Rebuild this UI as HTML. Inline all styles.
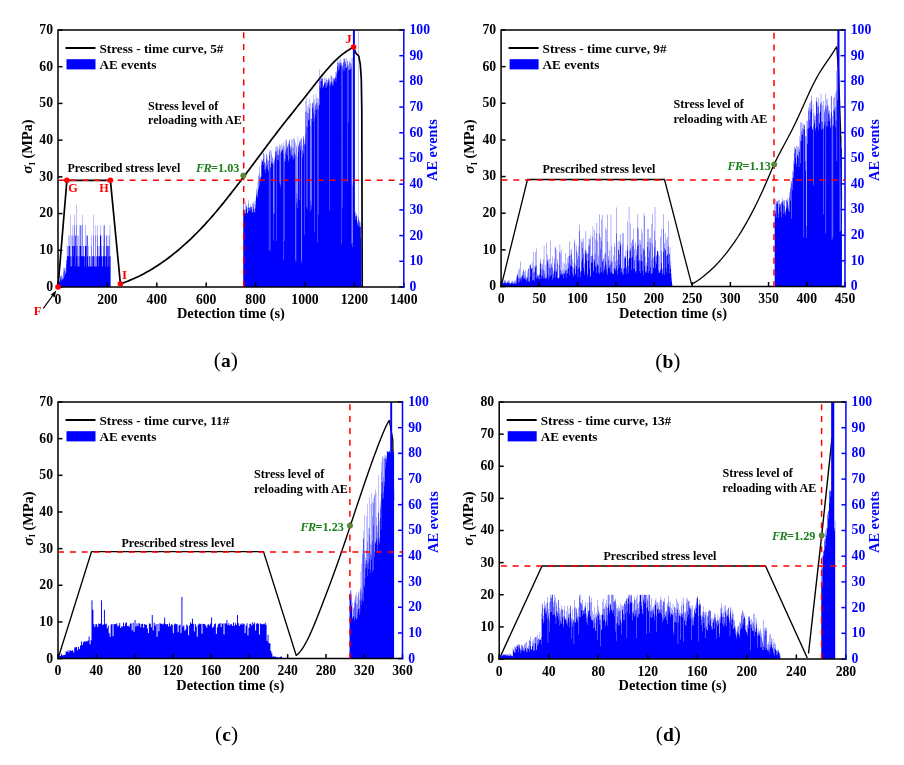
<!DOCTYPE html><html><head><meta charset="utf-8"><style>html,body{margin:0;padding:0;background:#fff;width:904px;height:765px;overflow:hidden}svg{display:block;will-change:transform}</style></head><body><svg width="904" height="765" viewBox="0 0 904 765" font-family='"Liberation Serif", serif'><rect width="904" height="765" fill="#fff"/><path d="M58 287 L66.9 180.3 L110.4 180.3 L120.4 283.8 L122.36 283.14 L124.32 282.44 L126.27 281.72 L128.23 280.96 L130.19 280.16 L132.15 279.34 L134.11 278.48 L136.06 277.58 L138.02 276.66 L139.98 275.7 L141.94 274.7 L143.9 273.68 L145.85 272.61 L147.81 271.52 L149.77 270.39 L151.73 269.23 L153.69 268.03 L155.64 266.8 L157.6 265.54 L159.56 264.24 L161.52 262.9 L163.48 261.54 L165.43 260.13 L167.39 258.7 L169.35 257.23 L171.31 255.72 L173.27 254.18 L175.22 252.61 L177.18 251 L179.14 249.36 L181.1 247.68 L183.06 245.97 L185.01 244.22 L186.97 242.44 L188.93 240.62 L190.89 238.77 L192.85 236.88 L194.8 234.96 L196.76 233 L198.72 231.01 L200.68 228.98 L202.64 226.92 L204.59 224.82 L206.55 222.69 L208.51 220.52 L210.47 218.31 L212.43 216.07 L214.38 213.8 L216.34 211.5 L218.3 209.16 L220.26 206.8 L222.22 204.41 L224.17 201.99 L226.13 199.55 L228.09 197.09 L230.05 194.6 L232.01 192.1 L233.96 189.57 L235.92 187.03 L237.88 184.48 L239.84 181.91 L241.79 179.33 L243.75 176.74 L245.71 174.13 L247.67 171.52 L249.63 168.91 L251.58 166.28 L253.54 163.66 L255.5 161.03 L257.46 158.4 L259.42 155.77 L261.37 153.14 L263.33 150.52 L265.29 147.9 L267.25 145.29 L269.21 142.69 L271.16 140.1 L273.12 137.51 L275.08 134.94 L277.04 132.39 L279 129.85 L280.95 127.32 L282.91 124.81 L284.87 122.32 L286.83 119.84 L288.79 117.37 L290.74 114.9 L292.7 112.44 L294.66 109.99 L296.62 107.53 L298.58 105.08 L300.53 102.62 L302.49 100.16 L304.45 97.68 L306.41 95.2 L308.37 92.71 L310.32 90.2 L312.28 87.69 L314.24 85.19 L316.2 82.7 L318.16 80.24 L320.11 77.8 L322.07 75.4 L324.03 73.04 L325.99 70.73 L327.95 68.48 L329.9 66.29 L331.86 64.19 L333.82 62.16 L335.78 60.21 L337.74 58.36 L339.69 56.6 L341.65 54.94 L343.61 53.39 L345.57 51.96 L347.53 50.63 L349.48 49.43 L351.44 48.36 L353.4 47.1 L355.9 53.1 L358.8 56.1 L360.3 64.4 L361.3 79.1 L361.8 110 L362.2 287" fill="none" stroke="#000" stroke-width="1.7" stroke-linejoin="round"/><path d="M58 287V281.41H58.25V280.96H58.49V282.64H58.74V280.76H58.99V282.04H59.23V281.51H59.48V280.72H59.73V281.9H59.98V277.2H60.22V280.35H60.47V276.28H60.72V275.93H60.96V278.94H61.21V280.82H61.46V274.59H61.7V275.66H61.95V279.03H62.2V280.02H62.45V277.94H62.69V275.49H62.94V279.25H63.19V268.33H63.43V278.05H63.68V272.22H63.93V268.94H64.17V267.59H64.42V270.97H64.67V276.19H64.92V267.67H65.16V273.85H65.41V274.04H65.66V269.55H65.9V272.14H66.15V260.61H66.4V259.82H66.64V264.53H66.89V245.88H67.14V256.16H67.39V256.16H67.63V245.88H67.88V256.16H68.13V256.16H68.37V235.6H68.62V245.88H68.87V256.16H69.11V245.88H69.36V245.88H69.61V235.6H69.86V245.88H70.1V256.16H70.35V215.04H70.6V266.44H70.84V256.16H71.09V235.6H71.34V266.44H71.59V256.16H71.83V266.44H72.08V245.88H72.33V235.6H72.57V245.88H72.82V225.32H73.07V256.16H73.31V235.6H73.56V245.88H73.81V245.88H74.06V245.88H74.3V225.32H74.55V215.04H74.8V245.88H75.04V235.6H75.29V266.44H75.54V235.6H75.78V235.6H76.03V204.76H76.28V225.32H76.53V256.16H76.77V245.88H77.02V235.6H77.27V266.44H77.51V245.88H77.76V256.16H78.01V266.44H78.25V266.44H78.5V235.6H78.75V256.16H79V256.16H79.24V245.88H79.49V225.32H79.74V266.44H79.98V245.88H80.23V245.88H80.48V225.32H80.72V225.32H80.97V225.32H81.22V256.16H81.47V245.88H81.71V256.16H81.96V225.32H82.21V215.04H82.45V256.16H82.7V256.16H82.95V256.16H83.19V256.16H83.44V245.88H83.69V245.88H83.94V256.16H84.18V266.44H84.43V256.16H84.68V256.16H84.92V245.88H85.17V225.32H85.42V245.88H85.66V245.88H85.91V245.88H86.16V245.88H86.41V266.44H86.65V235.6H86.9V235.6H87.15V235.6H87.39V235.6H87.64V256.16H87.89V256.16H88.13V266.44H88.38V245.88H88.63V266.44H88.88V266.44H89.12V256.16H89.37V256.16H89.62V256.16H89.86V266.44H90.11V266.44H90.36V256.16H90.6V266.44H90.85V256.16H91.1V266.44H91.34V235.6H91.59V245.88H91.84V266.44H92.09V256.16H92.33V256.16H92.58V256.16H92.83V266.44H93.07V235.6H93.32V215.04H93.57V256.16H93.81V256.16H94.06V266.44H94.31V266.44H94.56V256.16H94.8V256.16H95.05V235.6H95.3V266.44H95.54V266.44H95.79V225.32H96.04V256.16H96.28V266.44H96.53V256.16H96.78V266.44H97.03V256.16H97.27V225.32H97.52V235.6H97.77V245.88H98.01V256.16H98.26V256.16H98.51V266.44H98.75V245.88H99V256.16H99.25V245.88H99.5V256.16H99.74V256.16H99.99V235.6H100.24V225.32H100.48V235.6H100.73V235.6H100.98V235.6H101.22V245.88H101.47V256.16H101.72V256.16H101.97V256.16H102.21V266.44H102.46V266.44H102.71V256.16H102.95V256.16H103.2V245.88H103.45V225.32H103.69V256.16H103.94V235.6H104.19V225.32H104.44V225.32H104.68V256.16H104.93V256.16H105.18V256.16H105.42V266.44H105.67V256.16H105.92V245.88H106.16V235.6H106.41V235.6H106.66V256.16H106.91V245.88H107.15V245.88H107.4V266.44H107.65V245.88H107.89V235.6H108.14V245.88H108.39V245.88H108.63V256.16H108.88V266.44H109.13V245.88H109.38V256.16H109.62V235.6H109.87V225.32H110.12V256.16H110.36V256.16H110.61V287ZM243.25 287V214.56H243.5V204.29H243.74V203.85H243.99V212.45H244.24V212.67H244.49V210.26H244.73V208.79H244.98V200.83H245.23V209.99H245.47V213.92H245.72V213H245.97V204.45H246.21V205.38H246.46V208.87H246.71V206.79H246.96V213.29H247.2V207.16H247.45V213.11H247.7V213.25H247.94V207.89H248.19V200.15H248.44V203.42H248.68V211.37H248.93V206.96H249.18V207.92H249.43V207.4H249.67V210.96H249.92V207.8H250.17V204.3H250.41V207.06H250.66V210.41H250.91V206.16H251.15V206.87H251.4V209.29H251.65V207.1H251.9V212.74H252.14V211.76H252.39V203.59H252.64V212.62H252.88V201.46H253.13V205.66H253.38V203.13H253.62V208.49H253.87V211.7H254.12V209.05H254.37V201.23H254.61V212.57H254.86V212.3H255.11V204.31H255.35V207.71H255.6V200.54H255.85V197.78H256.09V195.95H256.34V188.36H256.59V194.02H256.84V190.67H257.08V191.49H257.33V197.69H257.58V195.83H257.82V182.39H258.07V189.06H258.32V175.81H258.56V188.18H258.81V175.46H259.06V185.98H259.31V180.52H259.55V166.5H259.8V173.07H260.05V181.67H260.29V177.7H260.54V177.63H260.79V176.58H261.03V165.11H261.28V176.38H261.53V159.62H261.77V162.07H262.02V159.78H262.27V160.58H262.52V162.08H262.76V161.4H263.01V158.64H263.26V153.27H263.5V152.76H263.75V164.7H264V162.87H264.25V154.34H264.49V161.53H264.74V169.75H264.99V162.65H265.23V172.75H265.48V169.28H265.73V164.79H265.97V159.04H266.22V153.85H266.47V166.7H266.72V154.61H266.96V168.67H267.21V164.71H267.46V156.14H267.7V160.16H267.95V159.75H268.2V170.69H268.44V161.41H268.69V170.51H268.94V250.37H269.19V155.2H269.43V150.6H269.68V152.15H269.93V251.23H270.17V149.92H270.42V167.03H270.67V167.79H270.91V160.93H271.16V163.61H271.41V154.55H271.65V150.95H271.9V163.06H272.15V156.94H272.4V158.29H272.64V163.51H272.89V164.75H273.14V161.64H273.38V240.67H273.63V212.92H273.88V158.54H274.12V159.84H274.37V214.21H274.62V162.41H274.87V157.58H275.11V146.38H275.36V151.71H275.61V151.15H275.85V155.59H276.1V146.19H276.35V241.09H276.6V149.96H276.84V152.51H277.09V159.91H277.34V147.4H277.58V155.21H277.83V145.99H278.08V154.9H278.32V150.54H278.57V160.55H278.82V155.34H279.06V144.18H279.31V149.58H279.56V182.8H279.81V147.45H280.05V144.99H280.3V187.33H280.55V152.93H280.79V184.04H281.04V152.3H281.29V150.56H281.53V150.69H281.78V143.47H282.03V148.64H282.28V150.07H282.52V145.76H282.77V149.79H283.02V153.74H283.26V260.25H283.51V142.18H283.76V147.23H284V241.12H284.25V144.94H284.5V162.04H284.75V158.49H284.99V160.86H285.24V152.16H285.49V139.66H285.73V149.96H285.98V154.04H286.23V139.37H286.48V141.98H286.72V147.39H286.97V156H287.22V145.48H287.46V146.24H287.71V148.1H287.96V142.64H288.2V159.66H288.45V144.21H288.7V161.7H288.94V141.51H289.19V139.72H289.44V139.64H289.69V144.57H289.93V158.65H290.18V147.63H290.43V149.88H290.67V145.9H290.92V153.43H291.17V155.88H291.41V138.97H291.66V146.52H291.91V147.43H292.16V156.15H292.4V139.83H292.65V154.75H292.9V159.7H293.14V137.65H293.39V158.56H293.64V147.6H293.88V154.82H294.13V140.07H294.38V138.46H294.63V152.55H294.87V157.26H295.12V154.27H295.37V259.7H295.61V142.38H295.86V262.12H296.11V148.04H296.36V145.08H296.6V202.91H296.85V193.94H297.1V198.77H297.34V208H297.59V156.35H297.84V136.46H298.08V145.4H298.33V146.8H298.58V151.96H298.82V144.61H299.07V140.46H299.32V142.67H299.57V199.96H299.81V142.18H300.06V146.41H300.31V140.52H300.55V150.15H300.8V137.97H301.05V140.1H301.29V137.68H301.54V263.14H301.79V259.81H302.04V149.46H302.28V145.24H302.53V151.16H302.78V157.62H303.02V136.03H303.27V136.49H303.52V139.32H303.76V153.28H304.01V144.04H304.26V235.36H304.51V144.82H304.75V139.86H305V143.18H305.25V134.28H305.49V111.91H305.74V101.01H305.99V111.07H306.24V207.27H306.48V97.78H306.73V126.44H306.98V209.21H307.22V113.04H307.47V127.05H307.72V106.72H307.96V112.94H308.21V104.21H308.46V119.66H308.71V120.54H308.95V107.75H309.2V108.46H309.45V98.57H309.69V119.17H309.94V211.65H310.19V200.97H310.43V103.35H310.68V125.8H310.93V209.47H311.18V205.21H311.42V118.53H311.67V118.53H311.92V104.05H312.16V103.16H312.41V107.97H312.66V102.26H312.9V121.64H313.15V94.78H313.4V101.93H313.64V112.92H313.89V107.45H314.14V118.6H314.39V232.6H314.63V99.19H314.88V109.93H315.13V103.97H315.37V105.87H315.62V115.5H315.87V94.34H316.12V110.07H316.36V102.88H316.61V98.15H316.86V108.84H317.1V97.73H317.35V242.19H317.6V105.39H317.84V102.78H318.09V214.2H318.34V109.42H318.58V98.38H318.83V105.52H319.08V80.21H319.33V104.63H319.57V69.2H319.82V86.36H320.07V81.32H320.31V88.44H320.56V78.83H320.81V77.96H321.06V80.92H321.3V78.37H321.55V78.48H321.8V81.08H322.04V87.93H322.29V78.71H322.54V78.55H322.78V77.32H323.03V85.06H323.28V85.81H323.52V86.28H323.77V87.41H324.02V82.62H324.27V77.3H324.51V83.79H324.76V83H325.01V82.66H325.25V78.5H325.5V81.94H325.75V87.48H326V80.02H326.24V87.9H326.49V78.24H326.74V85.82H326.98V83.05H327.23V80.08H327.48V85.8H327.72V82.63H327.97V78.69H328.22V79.71H328.46V77.73H328.71V81.99H328.96V85.36H329.21V210.49H329.45V79.48H329.7V80.68H329.95V75.74H330.19V86.49H330.44V83.29H330.69V83.74H330.94V82.15H331.18V75.34H331.43V81.46H331.68V76.3H331.92V85.63H332.17V84.42H332.42V82.42H332.66V77.53H332.91V81.15H333.16V78.46H333.4V85.69H333.65V77.75H333.9V79.74H334.15V81.02H334.39V78.69H334.64V78.92H334.89V77.37H335.13V77.83H335.38V76.39H335.63V72.12H335.88V82.2H336.12V74.05H336.37V78.05H336.62V71.08H336.86V72.42H337.11V66.46H337.36V62.3H337.6V59.85H337.85V65.74H338.1V62.53H338.35V62.64H338.59V69.98H338.84V70.39H339.09V67.86H339.33V62.38H339.58V63.58H339.83V59.21H340.07V65.51H340.32V59.26H340.57V62.39H340.81V64.6H341.06V62.33H341.31V62.94H341.56V244.58H341.8V65.8H342.05V68.21H342.3V207.46H342.54V64.73H342.79V65.84H343.04V70.75H343.29V61.63H343.53V58.84H343.78V63.11H344.03V58.99H344.27V58.35H344.52V70.69H344.77V60.84H345.01V63.99H345.26V68.47H345.51V62.04H345.75V58.71H346V67.9H346.25V58.1H346.5V67.22H346.74V67.14H346.99V61.01H347.24V61.08H347.48V181.63H347.73V65.27H347.98V66.09H348.23V122.27H348.47V69.58H348.72V63.68H348.97V69.72H349.21V60.51H349.46V69.85H349.71V62.45H349.95V62.34H350.2V69.91H350.45V68.53H350.69V63.18H350.94V57.7H351.19V67.58H351.44V64.21H351.68V244.32H351.93V185.62H352.18V242.52H352.42V247.3H352.67V58.1H352.92V30H353.17V30H353.41V30H353.66V30H353.91V30H354.15V30H354.4V30H354.65V30H354.89V212.66H355.14V219.55H355.39V211.31H355.63V216.54H355.88V215.48H356.13V213.49H356.38V215.31H356.62V216.23H356.87V220.27H357.12V222.18H357.36V223.05H357.61V225.28H357.86V215.81H358.11V30H358.35V218.77H358.6V226.24H358.85V219.66H359.09V221.33H359.34V223.36H359.59V227.32H359.83V220.97H360.08V222.88H360.33V226.85H360.57V226.83H360.82V238.25H361.07V248.34H361.32V287Z" fill="#0000ff"/><line x1="58" y1="287" x2="58" y2="282.5" stroke="#000" stroke-width="1.5"/><text x="58" y="303.6" font-size="13.7" text-anchor="middle" fill="#000" font-weight="bold" font-style="normal" >0</text><line x1="107.4" y1="287" x2="107.4" y2="282.5" stroke="#000" stroke-width="1.5"/><text x="107.4" y="303.6" font-size="13.7" text-anchor="middle" fill="#000" font-weight="bold" font-style="normal" >200</text><line x1="156.8" y1="287" x2="156.8" y2="282.5" stroke="#000" stroke-width="1.5"/><text x="156.8" y="303.6" font-size="13.7" text-anchor="middle" fill="#000" font-weight="bold" font-style="normal" >400</text><line x1="206.2" y1="287" x2="206.2" y2="282.5" stroke="#000" stroke-width="1.5"/><text x="206.2" y="303.6" font-size="13.7" text-anchor="middle" fill="#000" font-weight="bold" font-style="normal" >600</text><line x1="255.6" y1="287" x2="255.6" y2="282.5" stroke="#000" stroke-width="1.5"/><text x="255.6" y="303.6" font-size="13.7" text-anchor="middle" fill="#000" font-weight="bold" font-style="normal" >800</text><line x1="305" y1="287" x2="305" y2="282.5" stroke="#000" stroke-width="1.5"/><text x="305" y="303.6" font-size="13.7" text-anchor="middle" fill="#000" font-weight="bold" font-style="normal" >1000</text><line x1="354.4" y1="287" x2="354.4" y2="282.5" stroke="#000" stroke-width="1.5"/><text x="354.4" y="303.6" font-size="13.7" text-anchor="middle" fill="#000" font-weight="bold" font-style="normal" >1200</text><line x1="403.8" y1="287" x2="403.8" y2="282.5" stroke="#000" stroke-width="1.5"/><text x="403.8" y="303.6" font-size="13.7" text-anchor="middle" fill="#000" font-weight="bold" font-style="normal" >1400</text><line x1="58" y1="287" x2="62.5" y2="287" stroke="#000" stroke-width="1.5"/><text x="53" y="290.9" font-size="13.7" text-anchor="end" fill="#000" font-weight="bold" font-style="normal" >0</text><line x1="58" y1="250.29" x2="62.5" y2="250.29" stroke="#000" stroke-width="1.5"/><text x="53" y="254.19" font-size="13.7" text-anchor="end" fill="#000" font-weight="bold" font-style="normal" >10</text><line x1="58" y1="213.57" x2="62.5" y2="213.57" stroke="#000" stroke-width="1.5"/><text x="53" y="217.47" font-size="13.7" text-anchor="end" fill="#000" font-weight="bold" font-style="normal" >20</text><line x1="58" y1="176.86" x2="62.5" y2="176.86" stroke="#000" stroke-width="1.5"/><text x="53" y="180.76" font-size="13.7" text-anchor="end" fill="#000" font-weight="bold" font-style="normal" >30</text><line x1="58" y1="140.14" x2="62.5" y2="140.14" stroke="#000" stroke-width="1.5"/><text x="53" y="144.04" font-size="13.7" text-anchor="end" fill="#000" font-weight="bold" font-style="normal" >40</text><line x1="58" y1="103.43" x2="62.5" y2="103.43" stroke="#000" stroke-width="1.5"/><text x="53" y="107.33" font-size="13.7" text-anchor="end" fill="#000" font-weight="bold" font-style="normal" >50</text><line x1="58" y1="66.71" x2="62.5" y2="66.71" stroke="#000" stroke-width="1.5"/><text x="53" y="70.61" font-size="13.7" text-anchor="end" fill="#000" font-weight="bold" font-style="normal" >60</text><line x1="58" y1="30" x2="62.5" y2="30" stroke="#000" stroke-width="1.5"/><text x="53" y="33.9" font-size="13.7" text-anchor="end" fill="#000" font-weight="bold" font-style="normal" >70</text><line x1="403.8" y1="287" x2="399.3" y2="287" stroke="#0000ff" stroke-width="1.5"/><text x="409.5" y="290.9" font-size="13.7" text-anchor="start" fill="#0000ff" font-weight="bold" font-style="normal" >0</text><line x1="403.8" y1="261.3" x2="399.3" y2="261.3" stroke="#0000ff" stroke-width="1.5"/><text x="409.5" y="265.2" font-size="13.7" text-anchor="start" fill="#0000ff" font-weight="bold" font-style="normal" >10</text><line x1="403.8" y1="235.6" x2="399.3" y2="235.6" stroke="#0000ff" stroke-width="1.5"/><text x="409.5" y="239.5" font-size="13.7" text-anchor="start" fill="#0000ff" font-weight="bold" font-style="normal" >20</text><line x1="403.8" y1="209.9" x2="399.3" y2="209.9" stroke="#0000ff" stroke-width="1.5"/><text x="409.5" y="213.8" font-size="13.7" text-anchor="start" fill="#0000ff" font-weight="bold" font-style="normal" >30</text><line x1="403.8" y1="184.2" x2="399.3" y2="184.2" stroke="#0000ff" stroke-width="1.5"/><text x="409.5" y="188.1" font-size="13.7" text-anchor="start" fill="#0000ff" font-weight="bold" font-style="normal" >40</text><line x1="403.8" y1="158.5" x2="399.3" y2="158.5" stroke="#0000ff" stroke-width="1.5"/><text x="409.5" y="162.4" font-size="13.7" text-anchor="start" fill="#0000ff" font-weight="bold" font-style="normal" >50</text><line x1="403.8" y1="132.8" x2="399.3" y2="132.8" stroke="#0000ff" stroke-width="1.5"/><text x="409.5" y="136.7" font-size="13.7" text-anchor="start" fill="#0000ff" font-weight="bold" font-style="normal" >60</text><line x1="403.8" y1="107.1" x2="399.3" y2="107.1" stroke="#0000ff" stroke-width="1.5"/><text x="409.5" y="111" font-size="13.7" text-anchor="start" fill="#0000ff" font-weight="bold" font-style="normal" >70</text><line x1="403.8" y1="81.4" x2="399.3" y2="81.4" stroke="#0000ff" stroke-width="1.5"/><text x="409.5" y="85.3" font-size="13.7" text-anchor="start" fill="#0000ff" font-weight="bold" font-style="normal" >80</text><line x1="403.8" y1="55.7" x2="399.3" y2="55.7" stroke="#0000ff" stroke-width="1.5"/><text x="409.5" y="59.6" font-size="13.7" text-anchor="start" fill="#0000ff" font-weight="bold" font-style="normal" >90</text><line x1="403.8" y1="30" x2="399.3" y2="30" stroke="#0000ff" stroke-width="1.5"/><text x="409.5" y="33.9" font-size="13.7" text-anchor="start" fill="#0000ff" font-weight="bold" font-style="normal" >100</text><path d="M58 287V30H403.8" fill="none" stroke="#000" stroke-width="1.5" stroke-linecap="square"/><path d="M58 287H403.8" fill="none" stroke="#000" stroke-width="1.5" stroke-linecap="square"/><path d="M403.8 30V287" fill="none" stroke="#0000ff" stroke-width="1.5" stroke-linecap="square"/><line x1="58" y1="180.3" x2="403.8" y2="180.3" stroke="#ff0000" stroke-width="1.5" stroke-dasharray="6 5.77" stroke-dashoffset="-0.9"/><line x1="243.7" y1="32.2" x2="243.7" y2="287" stroke="#ff0000" stroke-width="1.5" stroke-dasharray="6 5.84"/><circle cx="58" cy="287" r="2.8" fill="#ff0000"/><circle cx="66.9" cy="180.3" r="2.8" fill="#ff0000"/><circle cx="110.4" cy="180.3" r="2.8" fill="#ff0000"/><circle cx="120.4" cy="283.8" r="2.8" fill="#ff0000"/><circle cx="353.6" cy="47" r="2.8" fill="#ff0000"/><circle cx="243.4" cy="175.6" r="2.7" fill="#5a8a3a" stroke="#3f6f25" stroke-width="0.6"/><text x="68.3" y="191.6" font-size="12.2" text-anchor="start" fill="#ff0000" font-weight="bold" font-style="normal" >G</text><text x="99.3" y="191.6" font-size="12.2" text-anchor="start" fill="#ff0000" font-weight="bold" font-style="normal" >H</text><text x="122" y="279" font-size="13" text-anchor="start" fill="#ff0000" font-weight="bold" font-style="normal" >I</text><text x="345.3" y="43.2" font-size="13" text-anchor="start" fill="#ff0000" font-weight="bold" font-style="normal" >J</text><text x="33.8" y="315.3" font-size="12.6" text-anchor="start" fill="#ff0000" font-weight="bold" font-style="normal" >F</text><path d="M43.3 308.3 L53 295.2" stroke="#000" stroke-width="1.1"/><path d="M56.2 290.6 L50.8 294.6 L54.6 297.4 Z" fill="#000"/><text x="67.4" y="172.3" font-size="12" text-anchor="start" fill="#000" font-weight="bold" font-style="normal" >Prescribed stress level</text><text x="148" y="109.9" font-size="12.1" text-anchor="start" fill="#000" font-weight="bold" font-style="normal" >Stress level of</text><text x="148" y="124.3" font-size="12.1" text-anchor="start" fill="#000" font-weight="bold" font-style="normal" >reloading with AE</text><text x="196" y="172" font-size="12.2" text-anchor="start" fill="#1a801a" font-weight="bold" font-style="normal" ><tspan font-style="italic" letter-spacing="-0.6">FR</tspan>=1.03</text><text x="230.9" y="318" font-size="14.4" text-anchor="middle" fill="#000" font-weight="bold" font-style="normal" >Detection time (s)</text><text transform="translate(32 146.5) rotate(-90)" font-size="14.4" font-weight="bold" text-anchor="middle" fill="#000"><tspan font-style="italic" font-size="15.5">&#963;</tspan><tspan font-size="8" dy="2.6">I</tspan><tspan dy="-2.6"> (MPa)</tspan></text><text transform="translate(437 150) rotate(-90)" font-size="14.4" font-weight="bold" text-anchor="middle" fill="#0000ff">AE events</text><text x="225.8" y="367" font-size="21.5" text-anchor="middle" fill="#000">(<tspan font-weight="bold" font-size="19.5">a</tspan>)</text><line x1="65.5" y1="48" x2="95.5" y2="48" stroke="#000" stroke-width="2"/><text x="99.5" y="52.5" font-size="13.2" text-anchor="start" fill="#000" font-weight="bold" font-style="normal" >Stress - time curve, 5#</text><rect x="66.5" y="59.2" width="29" height="10.2" fill="#0000ff"/><text x="99.5" y="69" font-size="13.2" text-anchor="start" fill="#000" font-weight="bold" font-style="normal" >AE events</text><path d="M501.1 286.5 L527.5 179.5 L664.5 179.5 L691.6 284.4 L693.07 283.52 L694.53 282.62 L696 281.68 L697.46 280.71 L698.93 279.7 L700.39 278.66 L701.86 277.57 L703.33 276.45 L704.79 275.28 L706.26 274.07 L707.72 272.83 L709.19 271.54 L710.65 270.21 L712.12 268.83 L713.58 267.41 L715.05 265.95 L716.52 264.44 L717.98 262.88 L719.45 261.28 L720.91 259.64 L722.38 257.94 L723.84 256.2 L725.31 254.41 L726.78 252.56 L728.24 250.67 L729.71 248.73 L731.17 246.74 L732.64 244.69 L734.1 242.59 L735.57 240.44 L737.04 238.24 L738.5 235.98 L739.97 233.66 L741.43 231.29 L742.9 228.87 L744.36 226.38 L745.83 223.85 L747.29 221.25 L748.76 218.6 L750.23 215.89 L751.69 213.13 L753.16 210.3 L754.62 207.42 L756.09 204.48 L757.55 201.49 L759.02 198.43 L760.49 195.32 L761.95 192.15 L763.42 188.92 L764.88 185.63 L766.35 182.28 L767.81 178.87 L769.28 175.42 L770.75 171.98 L772.21 168.59 L773.68 165.31 L775.14 162.17 L776.61 159.16 L778.07 156.26 L779.54 153.44 L781.01 150.67 L782.47 147.93 L783.94 145.22 L785.4 142.51 L786.87 139.79 L788.33 137.05 L789.8 134.27 L791.26 131.44 L792.73 128.55 L794.2 125.58 L795.66 122.52 L797.13 119.39 L798.59 116.21 L800.06 112.98 L801.52 109.72 L802.99 106.45 L804.46 103.17 L805.92 99.91 L807.39 96.68 L808.85 93.49 L810.32 90.36 L811.78 87.29 L813.25 84.31 L814.72 81.43 L816.18 78.66 L817.65 76.01 L819.11 73.5 L820.58 71.11 L822.04 68.82 L823.51 66.59 L824.97 64.43 L826.44 62.29 L827.91 60.17 L829.37 58.03 L830.84 55.86 L832.3 53.63 L833.77 51.33 L835.23 48.94 L836.7 46.8 L838.5 70 L840.5 128.9 L841.5 200" fill="none" stroke="#000" stroke-width="1.3" stroke-linejoin="round"/><path d="M501.1 286.5V283.76H501.41V280.34H501.71V283.32H502.02V283.71H502.32V283.34H502.63V282.91H502.93V282.53H503.24V281.56H503.55V283.28H503.85V283.39H504.16V280.25H504.46V282.7H504.77V280.59H505.07V282.49H505.38V280.33H505.69V282.82H505.99V283.2H506.3V283.49H506.6V282.84H506.91V281.56H507.21V282.32H507.52V282.71H507.83V281.57H508.13V283.3H508.44V280.36H508.74V281.87H509.05V280.58H509.35V283.15H509.66V283.49H509.96V283.85H510.27V282.89H510.58V283.83H510.88V282.69H511.19V282.85H511.49V280.9H511.8V283.46H512.1V283.78H512.41V281.28H512.72V280.94H513.02V283.78H513.33V283.34H513.63V282.6H513.94V283.91H514.24V282.81H514.55V280.62H514.86V281.76H515.16V280.58H515.47V283.75H515.77V283.66H516.08V283.28H516.38V275.94H516.69V279.11H517V274.82H517.3V273.41H517.61V275.74H517.91V277.45H518.22V270.12H518.52V282.6H518.83V278.5H519.14V282.15H519.44V268.14H519.75V277.79H520.05V279.15H520.36V277.84H520.66V261.7H520.97V277.35H521.28V276.37H521.58V281.1H521.89V275.12H522.19V276.67H522.5V272.21H522.8V275.09H523.11V278.64H523.42V270.46H523.72V269.78H524.03V271.98H524.33V277.68H524.64V278.51H524.94V275.32H525.25V270.08H525.56V279.32H525.86V280.11H526.17V276.91H526.47V278.67H526.78V281.75H527.08V278.58H527.39V276.43H527.69V271.23H528V268.41H528.31V281.38H528.61V268.75H528.92V281.31H529.22V281.78H529.53V265.48H529.83V276.96H530.14V266.56H530.45V264.54H530.75V264.3H531.06V269.04H531.36V268.82H531.67V268.11H531.97V262.09H532.28V280.41H532.59V268H532.89V280H533.2V272.58H533.5V251.63H533.81V279.47H534.11V271.72H534.42V265.81H534.73V281.1H535.03V267.62H535.34V251.89H535.64V266.34H535.95V277.52H536.25V248.4H536.56V265.61H536.87V279.08H537.17V276.56H537.48V274.13H537.78V275.33H538.09V278.83H538.39V275.66H538.7V275.27H539.01V279.19H539.31V274.93H539.62V273.61H539.92V263.99H540.23V262.06H540.53V259H540.84V269.8H541.15V264.41H541.45V275.77H541.76V279.06H542.06V263.48H542.37V268.29H542.67V275.79H542.98V259.42H543.29V278.13H543.59V270.24H543.9V245.83H544.2V278.13H544.51V270.81H544.81V274.14H545.12V278.23H545.42V278.54H545.73V264.75H546.04V242.68H546.34V277.36H546.65V278.6H546.95V254.58H547.26V261.55H547.56V260.27H547.87V274.86H548.18V279.15H548.48V259.23H548.79V264.3H549.09V277.2H549.4V267.85H549.7V258.86H550.01V268.16H550.32V240.44H550.62V275.97H550.93V264.3H551.23V263.2H551.54V274.83H551.84V267.11H552.15V279.38H552.46V256.41H552.76V268.38H553.07V278.19H553.37V274.13H553.68V270.89H553.98V271.47H554.29V258.6H554.6V263.45H554.9V246.15H555.21V248.02H555.51V277.54H555.82V270.79H556.12V272.05H556.43V269.25H556.74V249.42H557.04V259.47H557.35V263.23H557.65V278.02H557.96V278.35H558.26V278.77H558.57V278.06H558.88V265.1H559.18V251.91H559.49V277.3H559.79V244.77H560.1V274.49H560.4V253.33H560.71V270.06H561.02V272.41H561.32V274.63H561.63V249.4H561.93V270.53H562.24V274.82H562.54V274.01H562.85V261.92H563.15V278.27H563.46V273.08H563.77V269.6H564.07V273.41H564.38V263.66H564.68V273.39H564.99V253.07H565.29V271.04H565.6V270.43H565.91V277.67H566.21V270.03H566.52V263.48H566.82V273.58H567.13V273.4H567.43V258.1H567.74V269.05H568.05V256.26H568.35V263.31H568.66V267.9H568.96V275.5H569.27V255.22H569.57V241.47H569.88V256.09H570.19V264.57H570.49V266.29H570.8V250.55H571.1V254.36H571.41V266.03H571.71V248.74H572.02V272.64H572.33V259.26H572.63V266.93H572.94V277.1H573.24V275.29H573.55V267.75H573.85V262.79H574.16V239.56H574.47V268.85H574.77V242.58H575.08V273.37H575.38V264.75H575.69V275.21H575.99V251.09H576.3V266.12H576.61V245.48H576.91V269.44H577.22V253.26H577.52V259.47H577.83V277.36H578.13V268.6H578.44V246.66H578.74V256.05H579.05V267.44H579.36V224.6H579.66V230.98H579.97V270.57H580.27V277.19H580.58V272.45H580.88V238.81H581.19V261.29H581.5V271.09H581.8V242.79H582.11V248.05H582.41V258.13H582.72V241.06H583.02V238.22H583.33V267.39H583.64V254.16H583.94V271.4H584.25V263.4H584.55V274.74H584.86V251.01H585.16V253.89H585.47V249.21H585.78V230.7H586.08V251H586.39V254.33H586.69V260.79H587V253.11H587.3V276.41H587.61V273.51H587.92V253.5H588.22V246.1H588.53V260.46H588.83V238.57H589.14V245.02H589.44V268.75H589.75V239.16H590.06V275.94H590.36V235.45H590.67V276.53H590.97V255.76H591.28V262.43H591.58V256.03H591.89V263.11H592.2V255.52H592.5V236.69H592.81V226.59H593.11V271.72H593.42V259.02H593.72V270.15H594.03V229.95H594.34V259.86H594.64V261.5H594.95V253.75H595.25V239.3H595.56V266.5H595.86V267.07H596.17V272.9H596.47V233.03H596.78V223.02H597.09V264.69H597.39V264.31H597.7V241.03H598V265.77H598.31V272.51H598.61V255.48H598.92V233.82H599.23V274.13H599.53V214.31H599.84V272.45H600.14V236.99H600.45V248.81H600.75V267.3H601.06V272.07H601.37V240.98H601.67V219.45H601.98V215.23H602.28V261.17H602.59V261.61H602.89V273.37H603.2V258.17H603.51V259.13H603.81V270.74H604.12V269.24H604.42V254.28H604.73V266.21H605.03V253.21H605.34V227.82H605.65V261.79H605.95V264.52H606.26V268.9H606.56V229.49H606.87V272.51H607.17V214.62H607.48V275.12H607.79V241.7H608.09V256.21H608.4V260.3H608.7V267.8H609.01V250.1H609.31V265.6H609.62V268.22H609.93V259.56H610.23V264.38H610.54V272.72H610.84V214.84H611.15V271.77H611.45V261.97H611.76V246.28H612.07V273.93H612.37V261.43H612.68V273.61H612.98V255.19H613.29V274.1H613.59V273.7H613.9V269.05H614.2V268.29H614.51V243.15H614.82V246.86H615.12V261.6H615.43V268.89H615.73V270.94H616.04V266.18H616.34V207.52H616.65V233.39H616.96V269.83H617.26V259.88H617.57V274.25H617.87V241.35H618.18V250.03H618.48V249.36H618.79V267.98H619.1V240.68H619.4V253.98H619.71V264.6H620.01V246.07H620.32V242.8H620.62V234.25H620.93V272.59H621.24V267.78H621.54V268.39H621.85V244.13H622.15V232.62H622.46V271.7H622.76V274.82H623.07V233.33H623.38V274.3H623.68V268.87H623.99V258.43H624.29V268.26H624.6V256.32H624.9V257.87H625.21V258.12H625.52V255.68H625.82V249.98H626.13V268.62H626.43V266.24H626.74V274.55H627.04V245.63H627.35V221.75H627.66V250.89H627.96V265.66H628.27V272.86H628.57V260.28H628.88V206.99H629.18V250.31H629.49V258.27H629.8V258.09H630.1V248.53H630.41V223.56H630.71V251.17H631.02V257.46H631.32V242.8H631.63V270.1H631.93V246.54H632.24V256.84H632.55V239.37H632.85V240.04H633.16V228.32H633.46V269.31H633.77V244.74H634.07V260.05H634.38V248.94H634.69V268.54H634.99V270.88H635.3V242.18H635.6V272.87H635.91V256.39H636.21V271.18H636.52V249.79H636.83V255.11H637.13V227.51H637.44V246.46H637.74V213.94H638.05V244.37H638.35V261.46H638.66V228.85H638.97V239.85H639.27V271.36H639.58V259.67H639.88V260.6H640.19V240.45H640.49V273.02H640.8V244.45H641.11V229.31H641.41V254.49H641.72V260.94H642.02V261.62H642.33V232.79H642.63V270.61H642.94V248.08H643.25V275.13H643.55V250.46H643.86V213.53H644.16V215.83H644.47V249.98H644.77V265.91H645.08V256.4H645.39V270.71H645.69V272.18H646V271.24H646.3V263.09H646.61V273.01H646.91V266H647.22V228.97H647.52V247.07H647.83V242H648.14V229.01H648.44V273H648.75V257.38H649.05V238.35H649.36V270.9H649.66V250.26H649.97V242.21H650.28V266.69H650.58V237.38H650.89V273.65H651.19V273.64H651.5V223.94H651.8V259.47H652.11V214.26H652.42V273.01H652.72V243.69H653.03V257.8H653.33V267.57H653.64V268.37H653.94V256.54H654.25V230.53H654.56V247.33H654.86V206.99H655.17V240.34H655.47V268.01H655.78V261.22H656.08V254.73H656.39V263.94H656.7V256.17H657V250.7H657.31V251.8H657.61V250.94H657.92V251.23H658.22V254.87H658.53V269.89H658.84V273.02H659.14V272.38H659.45V256.22H659.75V273H660.06V269.69H660.36V236.7H660.67V270.7H660.98V229H661.28V262.73H661.59V251.11H661.89V268.29H662.2V269.16H662.5V274.39H662.81V273.47H663.12V251.92H663.42V213.96H663.73V229.07H664.03V274.84H664.34V248.39H664.64V243.29H664.95V233.15H665.25V250.97H665.56V249.03H665.87V267.89H666.17V239.55H666.48V255.96H666.78V272.52H667.09V255.3H667.39V236.69H667.7V254.15H668.01V245.91H668.31V221.1H668.62V263.95H668.92V253.15H669.23V273.22H669.53V254.56H669.84V247.15H670.15V266.04H670.45V269H670.76V260.63H671.06V274.03H671.37V277.98H671.67V281.52H671.98V283.67H672.29V286.5ZM774.69 286.5V205.52H775V213.56H775.3V199.3H775.61V211H775.91V217.85H776.22V203.72H776.53V201.31H776.83V200.99H777.14V200.98H777.44V203.13H777.75V203.49H778.05V199.91H778.36V213.46H778.67V218.1H778.97V199.66H779.28V207.35H779.58V203.86H779.89V204.79H780.19V204.83H780.5V203.87H780.81V212.1H781.11V217H781.42V201.66H781.72V202.7H782.03V198.19H782.33V203.39H782.64V201.53H782.95V200.17H783.25V213.81H783.56V204.98H783.86V200.87H784.17V200.1H784.47V206.11H784.78V213.36H785.08V215.27H785.39V210.24H785.7V211.21H786V200.1H786.31V199.56H786.61V208.31H786.92V206.99H787.22V200.33H787.53V201.97H787.84V197.76H788.14V209.02H788.45V204.95H788.75V211.53H789.06V211.86H789.36V197.52H789.67V192.35H789.98V188.73H790.28V200.85H790.59V187.45H790.89V181.05H791.2V181.29H791.5V219.05H791.81V183.71H792.12V178.08H792.42V189.91H792.73V170.39H793.03V177.76H793.34V172.03H793.64V161.46H793.95V152.86H794.26V163.95H794.56V146.64H794.87V148.91H795.17V147.74H795.48V149.36H795.78V157.88H796.09V145.73H796.4V163.28H796.7V166.46H797.01V155.27H797.31V154.68H797.62V146.64H797.92V150.53H798.23V157.45H798.54V146.55H798.84V167.15H799.15V148.91H799.45V152.03H799.76V136.59H800.06V122.52H800.37V141.05H800.68V163.2H800.98V122.32H801.29V131.15H801.59V140.64H801.9V134.81H802.2V128.02H802.51V134.39H802.81V123.4H803.12V128.89H803.43V237.21H803.73V124.49H804.04V124.84H804.34V125.49H804.65V130.04H804.95V161.01H805.26V171.03H805.57V136.25H805.87V136.35H806.18V237.95H806.48V226.04H806.79V120.56H807.09V128.73H807.4V121.12H807.71V144.17H808.01V107.41H808.32V128.6H808.62V110.77H808.93V127.79H809.23V103.48H809.54V119.73H809.85V108.86H810.15V101.76H810.46V111.65H810.76V126.49H811.07V109.42H811.37V95.79H811.68V100.55H811.99V129.9H812.29V127.79H812.6V129.03H812.9V104.55H813.21V125.59H813.51V185.38H813.82V113.06H814.13V115.39H814.43V123.43H814.74V120.12H815.04V130.45H815.35V127.88H815.65V115.68H815.96V100.38H816.27V102.61H816.57V97.02H816.88V127.15H817.18V102.24H817.49V113.79H817.79V106.57H818.1V106.45H818.41V97.45H818.71V130.19H819.02V123.6H819.32V113.07H819.63V123.6H819.93V102.46H820.24V104.41H820.54V111.79H820.85V93.72H821.16V129.76H821.46V102.62H821.77V121.11H822.07V104.9H822.38V121.89H822.68V128.63H822.99V100.66H823.3V128.71H823.6V214.47H823.91V125.13H824.21V109.51H824.52V112.35H824.82V121.79H825.13V106.12H825.44V94.12H825.74V233.46H826.05V99.83H826.35V108.14H826.66V126.31H826.96V98.44H827.27V104.97H827.58V126.66H827.88V120.99H828.19V106.04H828.49V113.34H828.8V111.02H829.1V121.32H829.41V110.62H829.72V114.85H830.02V118.29H830.33V125.94H830.63V128.19H830.94V96.57H831.24V95.87H831.55V112.5H831.86V240.05H832.16V116.16H832.47V125.69H832.77V237.33H833.08V97.98H833.38V110.04H833.69V124.7H834V97.01H834.3V111.13H834.61V108.54H834.91V93.48H835.22V127.11H835.52V106.98H835.83V120.3H836.14V91.13H836.44V70.7H836.75V161.19H837.05V100.32H837.36V30H837.66V30H837.97V30H838.27V30H838.58V30H838.89V30H839.19V30H839.5V103.86H839.8V231.58H840.11V141.82H840.41V230.85H840.72V139.59H841.03V149.34H841.33V136.43H841.64V148.11H841.94V286.5Z" fill="#0000ff"/><line x1="501.1" y1="286.5" x2="501.1" y2="282" stroke="#000" stroke-width="1.5"/><text x="501.1" y="303.1" font-size="13.7" text-anchor="middle" fill="#000" font-weight="bold" font-style="normal" >0</text><line x1="539.31" y1="286.5" x2="539.31" y2="282" stroke="#000" stroke-width="1.5"/><text x="539.31" y="303.1" font-size="13.7" text-anchor="middle" fill="#000" font-weight="bold" font-style="normal" >50</text><line x1="577.52" y1="286.5" x2="577.52" y2="282" stroke="#000" stroke-width="1.5"/><text x="577.52" y="303.1" font-size="13.7" text-anchor="middle" fill="#000" font-weight="bold" font-style="normal" >100</text><line x1="615.73" y1="286.5" x2="615.73" y2="282" stroke="#000" stroke-width="1.5"/><text x="615.73" y="303.1" font-size="13.7" text-anchor="middle" fill="#000" font-weight="bold" font-style="normal" >150</text><line x1="653.94" y1="286.5" x2="653.94" y2="282" stroke="#000" stroke-width="1.5"/><text x="653.94" y="303.1" font-size="13.7" text-anchor="middle" fill="#000" font-weight="bold" font-style="normal" >200</text><line x1="692.16" y1="286.5" x2="692.16" y2="282" stroke="#000" stroke-width="1.5"/><text x="692.16" y="303.1" font-size="13.7" text-anchor="middle" fill="#000" font-weight="bold" font-style="normal" >250</text><line x1="730.37" y1="286.5" x2="730.37" y2="282" stroke="#000" stroke-width="1.5"/><text x="730.37" y="303.1" font-size="13.7" text-anchor="middle" fill="#000" font-weight="bold" font-style="normal" >300</text><line x1="768.58" y1="286.5" x2="768.58" y2="282" stroke="#000" stroke-width="1.5"/><text x="768.58" y="303.1" font-size="13.7" text-anchor="middle" fill="#000" font-weight="bold" font-style="normal" >350</text><line x1="806.79" y1="286.5" x2="806.79" y2="282" stroke="#000" stroke-width="1.5"/><text x="806.79" y="303.1" font-size="13.7" text-anchor="middle" fill="#000" font-weight="bold" font-style="normal" >400</text><line x1="845" y1="286.5" x2="845" y2="282" stroke="#000" stroke-width="1.5"/><text x="845" y="303.1" font-size="13.7" text-anchor="middle" fill="#000" font-weight="bold" font-style="normal" >450</text><line x1="501.1" y1="286.5" x2="505.6" y2="286.5" stroke="#000" stroke-width="1.5"/><text x="496.1" y="290.4" font-size="13.7" text-anchor="end" fill="#000" font-weight="bold" font-style="normal" >0</text><line x1="501.1" y1="249.86" x2="505.6" y2="249.86" stroke="#000" stroke-width="1.5"/><text x="496.1" y="253.76" font-size="13.7" text-anchor="end" fill="#000" font-weight="bold" font-style="normal" >10</text><line x1="501.1" y1="213.21" x2="505.6" y2="213.21" stroke="#000" stroke-width="1.5"/><text x="496.1" y="217.11" font-size="13.7" text-anchor="end" fill="#000" font-weight="bold" font-style="normal" >20</text><line x1="501.1" y1="176.57" x2="505.6" y2="176.57" stroke="#000" stroke-width="1.5"/><text x="496.1" y="180.47" font-size="13.7" text-anchor="end" fill="#000" font-weight="bold" font-style="normal" >30</text><line x1="501.1" y1="139.93" x2="505.6" y2="139.93" stroke="#000" stroke-width="1.5"/><text x="496.1" y="143.83" font-size="13.7" text-anchor="end" fill="#000" font-weight="bold" font-style="normal" >40</text><line x1="501.1" y1="103.29" x2="505.6" y2="103.29" stroke="#000" stroke-width="1.5"/><text x="496.1" y="107.19" font-size="13.7" text-anchor="end" fill="#000" font-weight="bold" font-style="normal" >50</text><line x1="501.1" y1="66.64" x2="505.6" y2="66.64" stroke="#000" stroke-width="1.5"/><text x="496.1" y="70.54" font-size="13.7" text-anchor="end" fill="#000" font-weight="bold" font-style="normal" >60</text><line x1="501.1" y1="30" x2="505.6" y2="30" stroke="#000" stroke-width="1.5"/><text x="496.1" y="33.9" font-size="13.7" text-anchor="end" fill="#000" font-weight="bold" font-style="normal" >70</text><line x1="845" y1="286.5" x2="840.5" y2="286.5" stroke="#0000ff" stroke-width="1.5"/><text x="850.7" y="290.4" font-size="13.7" text-anchor="start" fill="#0000ff" font-weight="bold" font-style="normal" >0</text><line x1="845" y1="260.85" x2="840.5" y2="260.85" stroke="#0000ff" stroke-width="1.5"/><text x="850.7" y="264.75" font-size="13.7" text-anchor="start" fill="#0000ff" font-weight="bold" font-style="normal" >10</text><line x1="845" y1="235.2" x2="840.5" y2="235.2" stroke="#0000ff" stroke-width="1.5"/><text x="850.7" y="239.1" font-size="13.7" text-anchor="start" fill="#0000ff" font-weight="bold" font-style="normal" >20</text><line x1="845" y1="209.55" x2="840.5" y2="209.55" stroke="#0000ff" stroke-width="1.5"/><text x="850.7" y="213.45" font-size="13.7" text-anchor="start" fill="#0000ff" font-weight="bold" font-style="normal" >30</text><line x1="845" y1="183.9" x2="840.5" y2="183.9" stroke="#0000ff" stroke-width="1.5"/><text x="850.7" y="187.8" font-size="13.7" text-anchor="start" fill="#0000ff" font-weight="bold" font-style="normal" >40</text><line x1="845" y1="158.25" x2="840.5" y2="158.25" stroke="#0000ff" stroke-width="1.5"/><text x="850.7" y="162.15" font-size="13.7" text-anchor="start" fill="#0000ff" font-weight="bold" font-style="normal" >50</text><line x1="845" y1="132.6" x2="840.5" y2="132.6" stroke="#0000ff" stroke-width="1.5"/><text x="850.7" y="136.5" font-size="13.7" text-anchor="start" fill="#0000ff" font-weight="bold" font-style="normal" >60</text><line x1="845" y1="106.95" x2="840.5" y2="106.95" stroke="#0000ff" stroke-width="1.5"/><text x="850.7" y="110.85" font-size="13.7" text-anchor="start" fill="#0000ff" font-weight="bold" font-style="normal" >70</text><line x1="845" y1="81.3" x2="840.5" y2="81.3" stroke="#0000ff" stroke-width="1.5"/><text x="850.7" y="85.2" font-size="13.7" text-anchor="start" fill="#0000ff" font-weight="bold" font-style="normal" >80</text><line x1="845" y1="55.65" x2="840.5" y2="55.65" stroke="#0000ff" stroke-width="1.5"/><text x="850.7" y="59.55" font-size="13.7" text-anchor="start" fill="#0000ff" font-weight="bold" font-style="normal" >90</text><line x1="845" y1="30" x2="840.5" y2="30" stroke="#0000ff" stroke-width="1.5"/><text x="850.7" y="33.9" font-size="13.7" text-anchor="start" fill="#0000ff" font-weight="bold" font-style="normal" >100</text><path d="M501.1 286.5V30H845" fill="none" stroke="#000" stroke-width="1.5" stroke-linecap="square"/><path d="M501.1 286.5H845" fill="none" stroke="#000" stroke-width="1.5" stroke-linecap="square"/><path d="M845 30V286.5" fill="none" stroke="#0000ff" stroke-width="1.5" stroke-linecap="square"/><line x1="501.1" y1="180" x2="845" y2="180" stroke="#ff0000" stroke-width="1.5" stroke-dasharray="6 5.77" stroke-dashoffset="-0.4"/><line x1="774" y1="32.7" x2="774" y2="286.5" stroke="#ff0000" stroke-width="1.5" stroke-dasharray="6 5.84"/><circle cx="774.2" cy="164.4" r="2.7" fill="#5a8a3a" stroke="#3f6f25" stroke-width="0.6"/><text x="542.5" y="173.3" font-size="12" text-anchor="start" fill="#000" font-weight="bold" font-style="normal" >Prescribed stress level</text><text x="673.5" y="107.5" font-size="12.1" text-anchor="start" fill="#000" font-weight="bold" font-style="normal" >Stress level of</text><text x="673.5" y="122.5" font-size="12.1" text-anchor="start" fill="#000" font-weight="bold" font-style="normal" >reloading with AE</text><text x="727.5" y="170.4" font-size="12.2" text-anchor="start" fill="#1a801a" font-weight="bold" font-style="normal" ><tspan font-style="italic" letter-spacing="-0.6">FR</tspan>=1.13</text><text x="673.05" y="317.5" font-size="14.4" text-anchor="middle" fill="#000" font-weight="bold" font-style="normal" >Detection time (s)</text><text transform="translate(474.3 146.5) rotate(-90)" font-size="14.4" font-weight="bold" text-anchor="middle" fill="#000"><tspan font-style="italic" font-size="15.5">&#963;</tspan><tspan font-size="8" dy="2.6">I</tspan><tspan dy="-2.6"> (MPa)</tspan></text><text transform="translate(878.8 150) rotate(-90)" font-size="14.4" font-weight="bold" text-anchor="middle" fill="#0000ff">AE events</text><text x="667.9" y="367.5" font-size="21.5" text-anchor="middle" fill="#000">(<tspan font-weight="bold" font-size="19.5">b</tspan>)</text><line x1="508.6" y1="48" x2="538.6" y2="48" stroke="#000" stroke-width="2"/><text x="542.6" y="52.5" font-size="13.2" text-anchor="start" fill="#000" font-weight="bold" font-style="normal" >Stress - time curve, 9#</text><rect x="509.6" y="59.2" width="29" height="10.2" fill="#0000ff"/><text x="542.6" y="69" font-size="13.2" text-anchor="start" fill="#000" font-weight="bold" font-style="normal" >AE events</text><path d="M58 658.6 L91.5 551.6 L263.5 551.6 L296.2 655.4 L297.38 654.53 L298.56 653.42 L299.74 652.13 L300.92 650.66 L302.1 649.02 L303.28 647.23 L304.46 645.28 L305.64 643.19 L306.82 640.98 L308 638.64 L309.18 636.2 L310.36 633.65 L311.54 631.01 L312.72 628.29 L313.9 625.49 L315.08 622.63 L316.26 619.72 L317.44 616.76 L318.62 613.76 L319.79 610.74 L320.97 607.71 L322.15 604.66 L323.33 601.6 L324.51 598.54 L325.69 595.46 L326.87 592.36 L328.05 589.25 L329.23 586.11 L330.41 582.96 L331.59 579.78 L332.77 576.58 L333.95 573.35 L335.13 570.09 L336.31 566.8 L337.49 563.48 L338.67 560.13 L339.85 556.74 L341.03 553.33 L342.21 549.89 L343.39 546.43 L344.57 542.94 L345.75 539.44 L346.93 535.92 L348.11 532.39 L349.29 528.85 L350.47 525.3 L351.65 521.75 L352.83 518.19 L354.01 514.63 L355.19 511.08 L356.37 507.53 L357.55 503.98 L358.73 500.45 L359.91 496.93 L361.09 493.43 L362.27 489.94 L363.45 486.47 L364.63 483.02 L365.81 479.6 L366.98 476.2 L368.16 472.82 L369.34 469.47 L370.52 466.14 L371.7 462.85 L372.88 459.59 L374.06 456.36 L375.24 453.16 L376.42 450 L377.6 446.87 L378.78 443.79 L379.96 440.74 L381.14 437.74 L382.32 434.8 L383.5 431.96 L384.68 429.23 L385.86 426.66 L387.04 424.26 L388.22 422.07 L389.4 420.5 L392.8 440 L393.5 500" fill="none" stroke="#000" stroke-width="1.4" stroke-linejoin="round"/><path d="M58 658.6V654.11H58.96V655.74H59.91V655.98H60.87V653.64H61.83V655.21H62.78V655.2H63.74V654.97H64.7V654.53H65.66V651.16H66.61V652.07H67.57V650.19H68.53V652.55H69.48V650.36H70.44V650.57H71.4V651.1H72.35V650.15H73.31V652.59H74.27V647.45H75.22V647.16H76.18V646.92H77.14V650.24H78.1V646.93H79.05V649.11H80.01V645.47H80.97V641.42H81.92V645.1H82.88V642.34H83.84V641.2H84.79V641.71H85.75V640.92H86.71V641.51H87.67V640.5H88.62V636.48H89.58V644.27H90.54V640.26H91.49V600.35H92.45V609.85H93.41V624.33H94.36V626.97H95.32V624.36H96.28V624.13H97.23V627.07H98.19V623.55H99.15V623.88H100.11V623.49H101.06V600.35H102.02V624.86H102.98V624.42H103.93V609.85H104.89V624.15H105.85V623.46H106.8V628.31H107.76V625.48H108.72V633.32H109.67V636.66H110.63V624.46H111.59V624.06H112.55V636.19H113.5V624.3H114.46V623.97H115.42V624.24H116.37V623.25H117.33V626.48H118.29V625.51H119.24V623.1H120.2V627.92H121.16V626.29H122.12V626.67H123.07V622.46H124.03V626.05H124.99V623.3H125.94V622.32H126.9V625.95H127.86V625.74H128.81V626.82H129.77V623.53H130.73V623.42H131.68V630.28H132.64V622.86H133.6V631.63H134.56V620.11H135.51V626.59H136.47V623.43H137.43V626.06H138.38V623.07H139.34V623.67H140.3V627.37H141.25V623.96H142.21V623.85H143.17V627.73H144.12V624.12H145.08V624.85H146.04V624.85H147V628.59H147.95V633H148.91V623.39H149.87V623.87H150.82V627.13H151.78V614.98H152.74V630.62H153.69V622.42H154.65V625.86H155.61V624.12H156.57V636.79H157.52V623.96H158.48V631.16H159.44V623.17H160.39V623.68H161.35V623.63H162.31V624.59H163.26V623.5H164.22V617.54H165.18V623.97H166.13V624.59H167.09V624.04H168.05V626.57H169.01V623.33H169.96V626.32H170.92V624.35H171.88V624.87H172.83V633.29H173.79V624.38H174.75V623.52H175.7V624.21H176.66V624.27H177.62V632.34H178.57V625.41H179.53V624.41H180.49V632.94H181.45V597.02H182.4V626.66H183.36V625.21H184.32V630.87H185.27V629.31H186.23V624.43H187.19V625.75H188.14V635.24H189.1V625.55H190.06V622.54H191.02V623.75H191.97V618.83H192.93V623.82H193.89V631.62H194.84V624H195.8V626.39H196.76V636.68H197.71V624.68H198.67V623.5H199.63V624.29H200.58V623.83H201.54V633.77H202.5V624.07H203.46V623.81H204.41V624.22H205.37V625.65H206.33V627.66H207.28V624.82H208.24V624.24H209.2V625.49H210.15V623.46H211.11V617.54H212.07V627.76H213.03V626.85H213.98V624.19H214.94V623.42H215.9V633.93H216.85V627.48H217.81V624.37H218.77V623.38H219.72V623.35H220.68V626.89H221.64V623.54H222.59V623.6H223.55V634.61H224.51V623.36H225.47V623.82H226.42V620.11H227.38V624.96H228.34V623.28H229.29V625.62H230.25V624.18H231.21V624.17H232.16V625.88H233.12V622.22H234.08V625.69H235.03V623.27H235.99V625.02H236.95V614.98H237.91V623.27H238.86V625.91H239.82V624.44H240.78V623.55H241.73V624.86H242.69V623.24H243.65V624.02H244.6V633.27H245.56V625.5H246.52V623.33H247.47V635.55H248.43V627.67H249.39V623.97H250.35V623.46H251.3V625.67H252.26V622.29H253.22V624.18H254.17V622.61H255.13V630.55H256.09V623.71H257.04V623.22H258V623.73H258.96V634.57H259.92V623.35H260.87V624.07H261.83V624.39H262.79V623.68H263.74V624.36H264.7V622.63H265.66V624.82H266.61V640.98H267.57V634.63H268.53V643.31H269.48V643.34H270.44V650.89H271.4V653.39H272.36V656.67H273.31V656.11H274.27V656.95H275.23V656.42H276.18V657.25H277.14V657.18H278.1V657.67H279.05V657.32H280.01V656.73H280.97V656.52H281.93V658.6ZM349.58 658.6V595.28H349.82V595.54H350.06V590.15H350.3V597.29H350.54V589.63H350.78V594.51H351.02V591.35H351.26V594.76H351.49V606.33H351.73V605.34H351.97V616.61H352.21V618.12H352.45V602.28H352.69V619.2H352.93V607.7H353.17V616.49H353.41V608.99H353.65V616.37H353.89V607.46H354.13V603.1H354.37V599.7H354.6V620.5H354.84V618.49H355.08V602.12H355.32V595.36H355.56V596.51H355.8V616.41H356.04V618.57H356.28V619.92H356.52V604.52H356.76V592.34H357V597.44H357.24V603.99H357.48V612.46H357.71V617.92H357.95V608.93H358.19V609.1H358.43V592.25H358.67V594.78H358.91V591.22H359.15V607.89H359.39V599.65H359.63V615H359.87V611.73H360.11V600.52H360.35V587.51H360.59V591.25H360.83V571.92H361.06V598.38H361.3V604.78H361.54V589.13H361.78V563.31H362.02V554.93H362.26V549.94H362.5V592.9H362.74V600.66H362.98V538.99H363.22V530.44H363.46V601.39H363.7V538.34H363.94V584.91H364.17V553.84H364.41V514.84H364.65V587.34H364.89V577.96H365.13V568.63H365.37V557.3H365.61V563.97H365.85V560.17H366.09V549.63H366.33V559.97H366.57V567.84H366.81V516.1H367.05V542.06H367.28V563.71H367.52V503.72H367.76V576.36H368V569.1H368.24V528.18H368.48V562.52H368.72V553.11H368.96V535.12H369.2V527.75H369.44V558.69H369.68V497.36H369.92V573.2H370.16V543.22H370.39V553.69H370.63V569.77H370.87V504H371.11V559.96H371.35V555.53H371.59V493.22H371.83V544.63H372.07V541.08H372.31V572.26H372.55V516.5H372.79V501.63H373.03V525H373.27V502.97H373.5V498.39H373.74V569.96H373.98V494.38H374.22V551.98H374.46V495.43H374.7V557.23H374.94V542.41H375.18V489.69H375.42V541.89H375.66V543.71H375.9V492.2H376.14V517.61H376.38V526.01H376.61V538.54H376.85V540.24H377.09V551.46H377.33V524.87H377.57V545.08H377.81V531.97H378.05V539.25H378.29V474.63H378.53V513.07H378.77V512.54H379.01V537.34H379.25V543.53H379.49V520.99H379.72V541.97H379.96V508.52H380.2V501.3H380.44V518.25H380.68V505.59H380.92V529.58H381.16V471.31H381.4V493.79H381.64V461.83H381.88V482.5H382.12V498.28H382.36V481.71H382.6V456.75H382.83V456.04H383.07V492.38H383.31V498.99H383.55V476.78H383.79V458.49H384.03V458.56H384.27V485.76H384.51V455.39H384.75V481.81H384.99V458.03H385.23V454.66H385.47V468.45H385.71V458.76H385.94V457.61H386.18V462.16H386.42V459.17H386.66V456.2H386.9V450.5H387.14V451.25H387.38V451.14H387.62V452.08H387.86V452.09H388.1V451.42H388.34V451.89H388.58V452.85H388.82V451.27H389.05V451.24H389.29V451.07H389.53V452.22H389.77V449.68H390.01V453.06H390.25V402H390.49V402H390.73V402H390.97V402H391.21V402H391.45V402H391.69V402H391.93V402H392.16V450.06H392.4V450.61H392.64V452.24H392.88V448.66H393.12V453.28H393.36V450.92H393.6V452.54H393.84V451.13H394.08V658.6Z" fill="#0000ff"/><line x1="58" y1="658.6" x2="58" y2="654.1" stroke="#000" stroke-width="1.5"/><text x="58" y="675.2" font-size="13.7" text-anchor="middle" fill="#000" font-weight="bold" font-style="normal" >0</text><line x1="96.28" y1="658.6" x2="96.28" y2="654.1" stroke="#000" stroke-width="1.5"/><text x="96.28" y="675.2" font-size="13.7" text-anchor="middle" fill="#000" font-weight="bold" font-style="normal" >40</text><line x1="134.56" y1="658.6" x2="134.56" y2="654.1" stroke="#000" stroke-width="1.5"/><text x="134.56" y="675.2" font-size="13.7" text-anchor="middle" fill="#000" font-weight="bold" font-style="normal" >80</text><line x1="172.83" y1="658.6" x2="172.83" y2="654.1" stroke="#000" stroke-width="1.5"/><text x="172.83" y="675.2" font-size="13.7" text-anchor="middle" fill="#000" font-weight="bold" font-style="normal" >120</text><line x1="211.11" y1="658.6" x2="211.11" y2="654.1" stroke="#000" stroke-width="1.5"/><text x="211.11" y="675.2" font-size="13.7" text-anchor="middle" fill="#000" font-weight="bold" font-style="normal" >160</text><line x1="249.39" y1="658.6" x2="249.39" y2="654.1" stroke="#000" stroke-width="1.5"/><text x="249.39" y="675.2" font-size="13.7" text-anchor="middle" fill="#000" font-weight="bold" font-style="normal" >200</text><line x1="287.67" y1="658.6" x2="287.67" y2="654.1" stroke="#000" stroke-width="1.5"/><text x="287.67" y="675.2" font-size="13.7" text-anchor="middle" fill="#000" font-weight="bold" font-style="normal" >240</text><line x1="325.94" y1="658.6" x2="325.94" y2="654.1" stroke="#000" stroke-width="1.5"/><text x="325.94" y="675.2" font-size="13.7" text-anchor="middle" fill="#000" font-weight="bold" font-style="normal" >280</text><line x1="364.22" y1="658.6" x2="364.22" y2="654.1" stroke="#000" stroke-width="1.5"/><text x="364.22" y="675.2" font-size="13.7" text-anchor="middle" fill="#000" font-weight="bold" font-style="normal" >320</text><line x1="402.5" y1="658.6" x2="402.5" y2="654.1" stroke="#000" stroke-width="1.5"/><text x="402.5" y="675.2" font-size="13.7" text-anchor="middle" fill="#000" font-weight="bold" font-style="normal" >360</text><line x1="58" y1="658.6" x2="62.5" y2="658.6" stroke="#000" stroke-width="1.5"/><text x="53" y="662.5" font-size="13.7" text-anchor="end" fill="#000" font-weight="bold" font-style="normal" >0</text><line x1="58" y1="621.94" x2="62.5" y2="621.94" stroke="#000" stroke-width="1.5"/><text x="53" y="625.84" font-size="13.7" text-anchor="end" fill="#000" font-weight="bold" font-style="normal" >10</text><line x1="58" y1="585.29" x2="62.5" y2="585.29" stroke="#000" stroke-width="1.5"/><text x="53" y="589.19" font-size="13.7" text-anchor="end" fill="#000" font-weight="bold" font-style="normal" >20</text><line x1="58" y1="548.63" x2="62.5" y2="548.63" stroke="#000" stroke-width="1.5"/><text x="53" y="552.53" font-size="13.7" text-anchor="end" fill="#000" font-weight="bold" font-style="normal" >30</text><line x1="58" y1="511.97" x2="62.5" y2="511.97" stroke="#000" stroke-width="1.5"/><text x="53" y="515.87" font-size="13.7" text-anchor="end" fill="#000" font-weight="bold" font-style="normal" >40</text><line x1="58" y1="475.31" x2="62.5" y2="475.31" stroke="#000" stroke-width="1.5"/><text x="53" y="479.21" font-size="13.7" text-anchor="end" fill="#000" font-weight="bold" font-style="normal" >50</text><line x1="58" y1="438.66" x2="62.5" y2="438.66" stroke="#000" stroke-width="1.5"/><text x="53" y="442.56" font-size="13.7" text-anchor="end" fill="#000" font-weight="bold" font-style="normal" >60</text><line x1="58" y1="402" x2="62.5" y2="402" stroke="#000" stroke-width="1.5"/><text x="53" y="405.9" font-size="13.7" text-anchor="end" fill="#000" font-weight="bold" font-style="normal" >70</text><line x1="402.5" y1="658.6" x2="398" y2="658.6" stroke="#0000ff" stroke-width="1.5"/><text x="408.2" y="662.5" font-size="13.7" text-anchor="start" fill="#0000ff" font-weight="bold" font-style="normal" >0</text><line x1="402.5" y1="632.94" x2="398" y2="632.94" stroke="#0000ff" stroke-width="1.5"/><text x="408.2" y="636.84" font-size="13.7" text-anchor="start" fill="#0000ff" font-weight="bold" font-style="normal" >10</text><line x1="402.5" y1="607.28" x2="398" y2="607.28" stroke="#0000ff" stroke-width="1.5"/><text x="408.2" y="611.18" font-size="13.7" text-anchor="start" fill="#0000ff" font-weight="bold" font-style="normal" >20</text><line x1="402.5" y1="581.62" x2="398" y2="581.62" stroke="#0000ff" stroke-width="1.5"/><text x="408.2" y="585.52" font-size="13.7" text-anchor="start" fill="#0000ff" font-weight="bold" font-style="normal" >30</text><line x1="402.5" y1="555.96" x2="398" y2="555.96" stroke="#0000ff" stroke-width="1.5"/><text x="408.2" y="559.86" font-size="13.7" text-anchor="start" fill="#0000ff" font-weight="bold" font-style="normal" >40</text><line x1="402.5" y1="530.3" x2="398" y2="530.3" stroke="#0000ff" stroke-width="1.5"/><text x="408.2" y="534.2" font-size="13.7" text-anchor="start" fill="#0000ff" font-weight="bold" font-style="normal" >50</text><line x1="402.5" y1="504.64" x2="398" y2="504.64" stroke="#0000ff" stroke-width="1.5"/><text x="408.2" y="508.54" font-size="13.7" text-anchor="start" fill="#0000ff" font-weight="bold" font-style="normal" >60</text><line x1="402.5" y1="478.98" x2="398" y2="478.98" stroke="#0000ff" stroke-width="1.5"/><text x="408.2" y="482.88" font-size="13.7" text-anchor="start" fill="#0000ff" font-weight="bold" font-style="normal" >70</text><line x1="402.5" y1="453.32" x2="398" y2="453.32" stroke="#0000ff" stroke-width="1.5"/><text x="408.2" y="457.22" font-size="13.7" text-anchor="start" fill="#0000ff" font-weight="bold" font-style="normal" >80</text><line x1="402.5" y1="427.66" x2="398" y2="427.66" stroke="#0000ff" stroke-width="1.5"/><text x="408.2" y="431.56" font-size="13.7" text-anchor="start" fill="#0000ff" font-weight="bold" font-style="normal" >90</text><line x1="402.5" y1="402" x2="398" y2="402" stroke="#0000ff" stroke-width="1.5"/><text x="408.2" y="405.9" font-size="13.7" text-anchor="start" fill="#0000ff" font-weight="bold" font-style="normal" >100</text><path d="M58 658.6V402H402.5" fill="none" stroke="#000" stroke-width="1.5" stroke-linecap="square"/><path d="M58 658.6H402.5" fill="none" stroke="#000" stroke-width="1.5" stroke-linecap="square"/><path d="M402.5 402V658.6" fill="none" stroke="#0000ff" stroke-width="1.5" stroke-linecap="square"/><line x1="58" y1="552" x2="402.5" y2="552" stroke="#ff0000" stroke-width="1.5" stroke-dasharray="6 5.77" stroke-dashoffset="-0.13"/><line x1="349.9" y1="404.2" x2="349.9" y2="658.6" stroke="#ff0000" stroke-width="1.5" stroke-dasharray="6 5.84"/><circle cx="350" cy="525.6" r="2.7" fill="#5a8a3a" stroke="#3f6f25" stroke-width="0.6"/><text x="121.5" y="547" font-size="12" text-anchor="start" fill="#000" font-weight="bold" font-style="normal" >Prescribed stress level</text><text x="254" y="478" font-size="12.1" text-anchor="start" fill="#000" font-weight="bold" font-style="normal" >Stress level of</text><text x="254" y="493" font-size="12.1" text-anchor="start" fill="#000" font-weight="bold" font-style="normal" >reloading with AE</text><text x="300.5" y="531.2" font-size="12.2" text-anchor="start" fill="#1a801a" font-weight="bold" font-style="normal" ><tspan font-style="italic" letter-spacing="-0.6">FR</tspan>=1.23</text><text x="230.25" y="689.6" font-size="14.4" text-anchor="middle" fill="#000" font-weight="bold" font-style="normal" >Detection time (s)</text><text transform="translate(32.5 518.5) rotate(-90)" font-size="14.4" font-weight="bold" text-anchor="middle" fill="#000"><tspan font-style="italic" font-size="15.5">&#963;</tspan><tspan font-size="8" dy="2.6">I</tspan><tspan dy="-2.6"> (MPa)</tspan></text><text transform="translate(437.5 522) rotate(-90)" font-size="14.4" font-weight="bold" text-anchor="middle" fill="#0000ff">AE events</text><text x="226.6" y="741" font-size="21.5" text-anchor="middle" fill="#000">(<tspan font-weight="bold" font-size="19.5">c</tspan>)</text><line x1="65.5" y1="420" x2="95.5" y2="420" stroke="#000" stroke-width="2"/><text x="99.5" y="424.5" font-size="13.2" text-anchor="start" fill="#000" font-weight="bold" font-style="normal" >Stress - time curve, 11#</text><rect x="66.5" y="431.2" width="29" height="10.2" fill="#0000ff"/><text x="99.5" y="441" font-size="13.2" text-anchor="start" fill="#000" font-weight="bold" font-style="normal" >AE events</text><path d="M499.2 659 L542 566 L765.5 566 L807.3 658" fill="none" stroke="#000" stroke-width="1.4" stroke-linejoin="round"/><path d="M808.5 653.5 L815 595 L821.7 535.4 L832 438" fill="none" stroke="#000" stroke-width="1.4" stroke-linejoin="round"/><path d="M499.2 659V653.89H499.51V656.25H499.82V656.01H500.13V655.37H500.44V655.82H500.75V654.31H501.06V656.42H501.37V655.1H501.68V656.01H501.99V653.61H502.3V655.4H502.61V656.03H502.91V654.96H503.22V654.17H503.53V654.64H503.84V655.22H504.15V655.47H504.46V654.11H504.77V654.54H505.08V655.03H505.39V654.55H505.7V655.09H506.01V656.11H506.32V655.42H506.63V653.86H506.94V654.73H507.25V654.63H507.56V655.33H507.87V655.66H508.18V656.21H508.49V654.06H508.8V654.88H509.11V655.9H509.42V655.9H509.72V653.85H510.03V653.61H510.34V654.65H510.65V656.05H510.96V655.7H511.27V654.55H511.58V656.13H511.89V655.87H512.2V655.94H512.51V656.42H512.82V648.25H513.13V651.7H513.44V650.24H513.75V649.13H514.06V647.11H514.37V653.01H514.68V651.65H514.99V646.64H515.3V647.56H515.61V652.85H515.92V649.05H516.23V645.13H516.53V649.88H516.84V645.96H517.15V646.97H517.46V645.16H517.77V644.82H518.08V644.06H518.39V652.22H518.7V646.5H519.01V644.61H519.32V644.91H519.63V647.45H519.94V649.6H520.25V653.29H520.56V648.31H520.87V650.01H521.18V644.79H521.49V650.97H521.8V645.05H522.11V646.56H522.42V645.88H522.73V650.22H523.04V647.19H523.35V651.35H523.65V648.64H523.96V651.52H524.27V650.56H524.58V644.71H524.89V643.13H525.2V648.74H525.51V647.64H525.82V642.39H526.13V650.05H526.44V652.22H526.75V641.83H527.06V647.93H527.37V647.84H527.68V651.93H527.99V649.25H528.3V648.74H528.61V646H528.92V640.61H529.23V640.22H529.54V651.81H529.85V648.7H530.16V636.42H530.46V640.95H530.77V646.06H531.08V649.8H531.39V649.57H531.7V649.75H532.01V641.6H532.32V646.14H532.63V646.05H532.94V639.31H533.25V651H533.56V643.09H533.87V650.44H534.18V650.16H534.49V637.32H534.8V643.42H535.11V643.46H535.42V637.33H535.73V636.98H536.04V649.69H536.35V636.77H536.66V649.93H536.97V634.75H537.28V646.37H537.58V639.46H537.89V644.14H538.2V638.98H538.51V638.21H538.82V642.66H539.13V639.63H539.44V639.98H539.75V631.65H540.06V639.41H540.37V639.56H540.68V639.77H540.99V644.46H541.3V637.25H541.61V613.57H541.92V603.14H542.23V618.98H542.54V604.25H542.85V608.36H543.16V615.65H543.47V623.32H543.78V621.39H544.09V607.26H544.39V601.11H544.7V609.32H545.01V604.94H545.32V612.64H545.63V607.96H545.94V614.53H546.25V610.94H546.56V603.35H546.87V619.03H547.18V602.79H547.49V597.01H547.8V642.99H548.11V608.66H548.42V616.86H548.73V613.72H549.04V620.65H549.35V602.19H549.66V632.12H549.97V600.95H550.28V612.12H550.59V594.75H550.9V597.45H551.2V611.95H551.51V598.18H551.82V594.75H552.13V594.75H552.44V594.75H552.75V614.9H553.06V614.87H553.37V607.07H553.68V602.34H553.99V600.59H554.3V613.64H554.61V594.75H554.92V616.24H555.23V597.69H555.54V617.37H555.85V623.99H556.16V602.87H556.47V611.2H556.78V605.59H557.09V611.22H557.4V616.02H557.71V613.29H558.02V619.15H558.32V599.8H558.63V600.26H558.94V613.33H559.25V625.61H559.56V607.87H559.87V616.39H560.18V620.86H560.49V610.75H560.8V623.42H561.11V623.63H561.42V609.06H561.73V605.45H562.04V617.75H562.35V609.96H562.66V609.27H562.97V624.23H563.28V627.09H563.59V616.01H563.9V610H564.21V617.22H564.52V605.69H564.83V619.36H565.13V617.6H565.44V620.36H565.75V618.96H566.06V611.22H566.37V619.97H566.68V623.61H566.99V606.08H567.3V622.24H567.61V625.47H567.92V617.16H568.23V617.97H568.54V613.66H568.85V608.38H569.16V614.23H569.47V627.42H569.78V622.12H570.09V612.83H570.4V605.14H570.71V606.35H571.02V619.94H571.33V638.45H571.64V617.93H571.95V623.34H572.25V609.49H572.56V626.6H572.87V619.39H573.18V621.27H573.49V619.27H573.8V644.21H574.11V608H574.42V599.91H574.73V621.89H575.04V623.08H575.35V606.88H575.66V621.78H575.97V607.98H576.28V609.29H576.59V618.13H576.9V613.02H577.21V616.48H577.52V620.01H577.83V622.07H578.14V607.51H578.45V634.23H578.76V616.15H579.06V597.13H579.37V594.75H579.68V616.88H579.99V617.19H580.3V602.35H580.61V594.75H580.92V603.18H581.23V603.22H581.54V610.6H581.85V605.42H582.16V599.86H582.47V615.86H582.78V610.83H583.09V613.75H583.4V609.66H583.71V610.58H584.02V613.94H584.33V609.51H584.64V606.52H584.95V607.99H585.26V601.71H585.57V605.78H585.88V614.82H586.18V621.93H586.49V612.41H586.8V618.03H587.11V616.52H587.42V624.84H587.73V602.51H588.04V610.95H588.35V614.03H588.66V610.23H588.97V610.68H589.28V595.27H589.59V596.97H589.9V602.28H590.21V617.31H590.52V615.57H590.83V602.39H591.14V598.09H591.45V619.38H591.76V619.81H592.07V621.25H592.38V620.06H592.69V611.01H592.99V619.67H593.3V614.29H593.61V628.37H593.92V627.82H594.23V617.93H594.54V607.16H594.85V622.94H595.16V630.38H595.47V614.84H595.78V631.1H596.09V618.42H596.4V612.4H596.71V616.5H597.02V640.33H597.33V600.34H597.64V614.78H597.95V606.34H598.26V610.74H598.57V615.87H598.88V613.89H599.19V619.86H599.5V612.43H599.8V624.57H600.11V619.59H600.42V646.17H600.73V615.32H601.04V629.82H601.35V615H601.66V629.7H601.97V613.97H602.28V614.92H602.59V601.74H602.9V609.12H603.21V598.42H603.52V620.74H603.83V615.16H604.14V607.21H604.45V619.69H604.76V608.74H605.07V603.61H605.38V622.35H605.69V625.94H606V620.64H606.31V606.49H606.62V599.67H606.92V614.93H607.23V625.22H607.54V607.94H607.85V594.75H608.16V594.75H608.47V604.2H608.78V607.22H609.09V594.75H609.4V613.58H609.71V611.04H610.02V603.3H610.33V604.52H610.64V605.01H610.95V609.89H611.26V609.53H611.57V594.75H611.88V594.75H612.19V611.62H612.5V594.75H612.81V613.54H613.12V609.71H613.43V594.75H613.73V602.09H614.04V600.45H614.35V601.97H614.66V616.41H614.97V600.42H615.28V631.41H615.59V598.43H615.9V604.17H616.21V623.45H616.52V640.79H616.83V608.5H617.14V608.36H617.45V616.27H617.76V623.22H618.07V625.45H618.38V610.9H618.69V605.83H619V625.36H619.31V607.81H619.62V611.37H619.93V610.13H620.24V619.31H620.54V603.58H620.85V621.33H621.16V623.33H621.47V634.32H621.78V605.24H622.09V610.29H622.4V608.89H622.71V605.75H623.02V613.93H623.33V620.31H623.64V605.65H623.95V604.01H624.26V603.03H624.57V620.26H624.88V601.13H625.19V604.41H625.5V613.74H625.81V600.89H626.12V598.68H626.43V599.31H626.74V637.89H627.05V603.68H627.36V611.81H627.66V597.38H627.97V598.64H628.28V594.75H628.59V597.55H628.9V604.3H629.21V594.75H629.52V613.9H629.83V594.75H630.14V596.02H630.45V601.74H630.76V602.84H631.07V594.75H631.38V595.53H631.69V603.02H632V612.68H632.31V601.82H632.62V620.45H632.93V611.09H633.24V613.11H633.55V603.53H633.86V615.64H634.17V600.27H634.47V596.49H634.78V616.52H635.09V599.6H635.4V614.3H635.71V610.24H636.02V638.24H636.33V609.73H636.64V597.68H636.95V594.75H637.26V616.84H637.57V604.18H637.88V617.67H638.19V608.21H638.5V614.09H638.81V602.52H639.12V601.31H639.43V614H639.74V594.75H640.05V594.75H640.36V594.75H640.67V595.16H640.98V594.75H641.29V605.72H641.59V601.87H641.9V608.94H642.21V594.75H642.52V613.58H642.83V614.11H643.14V600.37H643.45V594.75H643.76V598.61H644.07V594.75H644.38V603.39H644.69V594.75H645V594.75H645.31V594.75H645.62V602.24H645.93V594.75H646.24V607.92H646.55V633.92H646.86V594.75H647.17V598.84H647.48V607.19H647.79V601.11H648.1V610.24H648.4V611.56H648.71V594.79H649.02V632.7H649.33V594.75H649.64V594.75H649.95V617.13H650.26V611.51H650.57V604.65H650.88V610.33H651.19V598.31H651.5V617.97H651.81V611.28H652.12V610.22H652.43V616.98H652.74V607.45H653.05V606.58H653.36V613.2H653.67V609.69H653.98V615.29H654.29V603.68H654.6V619.72H654.91V604.99H655.21V600.54H655.52V605.44H655.83V598.23H656.14V615.48H656.45V631.7H656.76V602.67H657.07V608.59H657.38V609.67H657.69V601.68H658V608.85H658.31V613.35H658.62V604.84H658.93V602.37H659.24V613.35H659.55V610.32H659.86V609.63H660.17V613.05H660.48V599.57H660.79V596.53H661.1V600.12H661.41V614.59H661.72V609.83H662.03V605.28H662.33V617.27H662.64V621.88H662.95V601.94H663.26V619.87H663.57V600.86H663.88V601.83H664.19V598.15H664.5V618.3H664.81V613.95H665.12V611.13H665.43V616.42H665.74V616.58H666.05V620.12H666.36V610.66H666.67V611.93H666.98V605.41H667.29V623.91H667.6V602.93H667.91V614.69H668.22V606.78H668.53V595.58H668.84V601.56H669.14V611.34H669.45V607.62H669.76V606.2H670.07V617.06H670.38V601.73H670.69V614.17H671V614.35H671.31V607.91H671.62V613.12H671.93V614.77H672.24V615.22H672.55V610.01H672.86V603.94H673.17V613.07H673.48V631.54H673.79V634.71H674.1V607.42H674.41V622.27H674.72V606.45H675.03V622.12H675.34V612.89H675.65V607.69H675.96V615.89H676.26V622.71H676.57V598.51H676.88V609.17H677.19V608.69H677.5V601.58H677.81V644.06H678.12V622.35H678.43V603.45H678.74V612.74H679.05V615.08H679.36V616.05H679.67V609.84H679.98V616.28H680.29V639.55H680.6V612.76H680.91V616.4H681.22V614.03H681.53V605.73H681.84V601.25H682.15V613.54H682.46V617.15H682.77V613.47H683.07V641.72H683.38V597.66H683.69V604.54H684V618.87H684.31V621.06H684.62V612.07H684.93V611.27H685.24V613.49H685.55V624.92H685.86V625.72H686.17V602.91H686.48V621H686.79V597.58H687.1V611.31H687.41V599.62H687.72V616.96H688.03V600.71H688.34V601.55H688.65V614.44H688.96V605.92H689.27V608.11H689.58V600.9H689.88V619.06H690.19V608.08H690.5V610.08H690.81V605.96H691.12V639.97H691.43V608.75H691.74V616.98H692.05V605.11H692.36V625.6H692.67V618.41H692.98V625.47H693.29V620.66H693.6V615.33H693.91V617.23H694.22V610.57H694.53V608.75H694.84V607.81H695.15V605.09H695.46V613.05H695.77V613.39H696.08V607.95H696.39V598.62H696.7V602.54H697V598.46H697.31V596.14H697.62V597.34H697.93V605.46H698.24V616.12H698.55V641.3H698.86V604.07H699.17V599.83H699.48V604.33H699.79V606.08H700.1V616.36H700.41V603.47H700.72V604.67H701.03V625.06H701.34V619.45H701.65V615.12H701.96V616.58H702.27V631.34H702.58V611.4H702.89V616.72H703.2V612.28H703.51V606.59H703.81V623.32H704.12V617.83H704.43V612.75H704.74V627.84H705.05V614.92H705.36V638.09H705.67V611.64H705.98V628.87H706.29V611.97H706.6V626.25H706.91V630.07H707.22V630.85H707.53V615.71H707.84V616.61H708.15V611.76H708.46V610.4H708.77V623.26H709.08V609.5H709.39V611.33H709.7V625.14H710.01V620.14H710.32V611.04H710.63V610.44H710.93V626.9H711.24V618.34H711.55V625.9H711.86V629.91H712.17V628.73H712.48V622.46H712.79V618.12H713.1V619.75H713.41V622.28H713.72V618.89H714.03V628.81H714.34V613.5H714.65V616.71H714.96V617.5H715.27V620.01H715.58V614.13H715.89V623.45H716.2V638.47H716.51V621.6H716.82V620.47H717.13V620.19H717.44V626.28H717.74V614.61H718.05V621.83H718.36V620.01H718.67V624.32H718.98V617.3H719.29V637.26H719.6V633.76H719.91V618.82H720.22V622.7H720.53V608.55H720.84V616.6H721.15V603.37H721.46V612.69H721.77V607.36H722.08V614.1H722.39V616.89H722.7V624.24H723.01V626.5H723.32V611.73H723.63V616.78H723.94V605.89H724.25V623.01H724.56V617.04H724.86V625.28H725.17V604.75H725.48V612.41H725.79V610.06H726.1V616.69H726.41V626.34H726.72V612.39H727.03V609.63H727.34V615.96H727.65V614.64H727.96V607.88H728.27V607.41H728.58V617.53H728.89V614.82H729.2V622.59H729.51V619.88H729.82V636.1H730.13V608.76H730.44V612.87H730.75V606.6H731.06V616.99H731.37V624.53H731.67V619.68H731.98V613.64H732.29V619.04H732.6V610.52H732.91V628.5H733.22V613.92H733.53V628.86H733.84V619.78H734.15V620.88H734.46V626.6H734.77V628.24H735.08V633.96H735.39V626.17H735.7V629.87H736.01V636.19H736.32V631.87H736.63V638.68H736.94V634.16H737.25V628.12H737.56V631.47H737.87V625.61H738.18V633.28H738.48V626.22H738.79V633.51H739.1V635.21H739.41V637.59H739.72V621.94H740.03V623.94H740.34V629.7H740.65V621.91H740.96V628.6H741.27V615.4H741.58V613.59H741.89V627.23H742.2V610.8H742.51V623.26H742.82V610.79H743.13V619.16H743.44V613.42H743.75V624.98H744.06V617.39H744.37V615.38H744.68V617.35H744.99V629.88H745.3V619.02H745.6V629.76H745.91V625.16H746.22V631.84H746.53V632.94H746.84V632.05H747.15V635.53H747.46V625.78H747.77V624.14H748.08V617.59H748.39V628.28H748.7V616.52H749.01V615.93H749.32V617.36H749.63V621.22H749.94V619.65H750.25V650.1H750.56V624.71H750.87V624.11H751.18V619.12H751.49V628H751.8V624.83H752.11V629.92H752.41V621.63H752.72V630.94H753.03V623.12H753.34V613.77H753.65V631.3H753.96V636.21H754.27V613.86H754.58V626.23H754.89V629.83H755.2V631.45H755.51V631.98H755.82V617.73H756.13V628.18H756.44V621.81H756.75V624.44H757.06V647.62H757.37V632.55H757.68V635.8H757.99V632.75H758.3V628.74H758.61V635.27H758.92V633.99H759.22V631.16H759.53V635.58H759.84V631.16H760.15V628.55H760.46V647.43H760.77V636.6H761.08V637.73H761.39V646.97H761.7V633.2H762.01V640.73H762.32V650.15H762.63V642.96H762.94V619.6H763.25V645.69H763.56V649.77H763.87V629.83H764.18V635.36H764.49V647.25H764.8V628.29H765.11V627H765.42V631.31H765.73V649.95H766.04V628.16H766.34V648.11H766.65V630.93H766.96V649.97H767.27V644.28H767.58V649.81H767.89V651.75H768.2V641.9H768.51V650.29H768.82V644.85H769.13V648.7H769.44V635.29H769.75V653.66H770.06V647.56H770.37V633.46H770.68V644.57H770.99V641.87H771.3V638.24H771.61V644.47H771.92V646.95H772.23V648.35H772.54V648.67H772.85V638.6H773.15V644.21H773.46V651.87H773.77V653.7H774.08V642.29H774.39V647.69H774.7V655.54H775.01V649.56H775.32V648.96H775.63V643.74H775.94V650.31H776.25V651.03H776.56V655.3H776.87V650.19H777.18V652.47H777.49V654.71H777.8V649.23H778.11V650.86H778.42V650.69H778.73V653.01H779.04V653.02H779.35V652.5H779.66V656.28H779.97V654.71H780.27V659ZM821.26 659V587.39H821.57V565.37H821.88V555.86H822.19V584.91H822.5V568.21H822.81V555.61H823.12V550.34H823.43V551.85H823.74V556.23H824.05V550.26H824.36V538.49H824.66V540.98H824.97V545.88H825.28V531.18H825.59V539.36H825.9V528.37H826.21V535.97H826.52V534.08H826.83V527.3H827.14V528.86H827.45V515.01H827.76V512.42H828.07V518.7H828.38V510.48H828.69V511.22H829V503.73H829.31V491.51H829.62V490.1H829.93V491.83H830.24V489.85H830.55V496.77H830.86V491.08H831.17V402H831.47V402H831.78V402H832.09V402H832.4V402H832.71V402H833.02V402H833.33V402H833.64V402H833.95V402H834.26V530.91H834.57V527.91H834.88V520.65H835.19V659Z" fill="#0000ff"/><line x1="499.2" y1="659" x2="499.2" y2="654.5" stroke="#000" stroke-width="1.5"/><text x="499.2" y="675.6" font-size="13.7" text-anchor="middle" fill="#000" font-weight="bold" font-style="normal" >0</text><line x1="548.73" y1="659" x2="548.73" y2="654.5" stroke="#000" stroke-width="1.5"/><text x="548.73" y="675.6" font-size="13.7" text-anchor="middle" fill="#000" font-weight="bold" font-style="normal" >40</text><line x1="598.26" y1="659" x2="598.26" y2="654.5" stroke="#000" stroke-width="1.5"/><text x="598.26" y="675.6" font-size="13.7" text-anchor="middle" fill="#000" font-weight="bold" font-style="normal" >80</text><line x1="647.79" y1="659" x2="647.79" y2="654.5" stroke="#000" stroke-width="1.5"/><text x="647.79" y="675.6" font-size="13.7" text-anchor="middle" fill="#000" font-weight="bold" font-style="normal" >120</text><line x1="697.31" y1="659" x2="697.31" y2="654.5" stroke="#000" stroke-width="1.5"/><text x="697.31" y="675.6" font-size="13.7" text-anchor="middle" fill="#000" font-weight="bold" font-style="normal" >160</text><line x1="746.84" y1="659" x2="746.84" y2="654.5" stroke="#000" stroke-width="1.5"/><text x="746.84" y="675.6" font-size="13.7" text-anchor="middle" fill="#000" font-weight="bold" font-style="normal" >200</text><line x1="796.37" y1="659" x2="796.37" y2="654.5" stroke="#000" stroke-width="1.5"/><text x="796.37" y="675.6" font-size="13.7" text-anchor="middle" fill="#000" font-weight="bold" font-style="normal" >240</text><line x1="845.9" y1="659" x2="845.9" y2="654.5" stroke="#000" stroke-width="1.5"/><text x="845.9" y="675.6" font-size="13.7" text-anchor="middle" fill="#000" font-weight="bold" font-style="normal" >280</text><line x1="499.2" y1="659" x2="503.7" y2="659" stroke="#000" stroke-width="1.5"/><text x="494.2" y="662.9" font-size="13.7" text-anchor="end" fill="#000" font-weight="bold" font-style="normal" >0</text><line x1="499.2" y1="626.88" x2="503.7" y2="626.88" stroke="#000" stroke-width="1.5"/><text x="494.2" y="630.77" font-size="13.7" text-anchor="end" fill="#000" font-weight="bold" font-style="normal" >10</text><line x1="499.2" y1="594.75" x2="503.7" y2="594.75" stroke="#000" stroke-width="1.5"/><text x="494.2" y="598.65" font-size="13.7" text-anchor="end" fill="#000" font-weight="bold" font-style="normal" >20</text><line x1="499.2" y1="562.62" x2="503.7" y2="562.62" stroke="#000" stroke-width="1.5"/><text x="494.2" y="566.52" font-size="13.7" text-anchor="end" fill="#000" font-weight="bold" font-style="normal" >30</text><line x1="499.2" y1="530.5" x2="503.7" y2="530.5" stroke="#000" stroke-width="1.5"/><text x="494.2" y="534.4" font-size="13.7" text-anchor="end" fill="#000" font-weight="bold" font-style="normal" >40</text><line x1="499.2" y1="498.38" x2="503.7" y2="498.38" stroke="#000" stroke-width="1.5"/><text x="494.2" y="502.27" font-size="13.7" text-anchor="end" fill="#000" font-weight="bold" font-style="normal" >50</text><line x1="499.2" y1="466.25" x2="503.7" y2="466.25" stroke="#000" stroke-width="1.5"/><text x="494.2" y="470.15" font-size="13.7" text-anchor="end" fill="#000" font-weight="bold" font-style="normal" >60</text><line x1="499.2" y1="434.12" x2="503.7" y2="434.12" stroke="#000" stroke-width="1.5"/><text x="494.2" y="438.02" font-size="13.7" text-anchor="end" fill="#000" font-weight="bold" font-style="normal" >70</text><line x1="499.2" y1="402" x2="503.7" y2="402" stroke="#000" stroke-width="1.5"/><text x="494.2" y="405.9" font-size="13.7" text-anchor="end" fill="#000" font-weight="bold" font-style="normal" >80</text><line x1="845.9" y1="659" x2="841.4" y2="659" stroke="#0000ff" stroke-width="1.5"/><text x="851.6" y="662.9" font-size="13.7" text-anchor="start" fill="#0000ff" font-weight="bold" font-style="normal" >0</text><line x1="845.9" y1="633.3" x2="841.4" y2="633.3" stroke="#0000ff" stroke-width="1.5"/><text x="851.6" y="637.2" font-size="13.7" text-anchor="start" fill="#0000ff" font-weight="bold" font-style="normal" >10</text><line x1="845.9" y1="607.6" x2="841.4" y2="607.6" stroke="#0000ff" stroke-width="1.5"/><text x="851.6" y="611.5" font-size="13.7" text-anchor="start" fill="#0000ff" font-weight="bold" font-style="normal" >20</text><line x1="845.9" y1="581.9" x2="841.4" y2="581.9" stroke="#0000ff" stroke-width="1.5"/><text x="851.6" y="585.8" font-size="13.7" text-anchor="start" fill="#0000ff" font-weight="bold" font-style="normal" >30</text><line x1="845.9" y1="556.2" x2="841.4" y2="556.2" stroke="#0000ff" stroke-width="1.5"/><text x="851.6" y="560.1" font-size="13.7" text-anchor="start" fill="#0000ff" font-weight="bold" font-style="normal" >40</text><line x1="845.9" y1="530.5" x2="841.4" y2="530.5" stroke="#0000ff" stroke-width="1.5"/><text x="851.6" y="534.4" font-size="13.7" text-anchor="start" fill="#0000ff" font-weight="bold" font-style="normal" >50</text><line x1="845.9" y1="504.8" x2="841.4" y2="504.8" stroke="#0000ff" stroke-width="1.5"/><text x="851.6" y="508.7" font-size="13.7" text-anchor="start" fill="#0000ff" font-weight="bold" font-style="normal" >60</text><line x1="845.9" y1="479.1" x2="841.4" y2="479.1" stroke="#0000ff" stroke-width="1.5"/><text x="851.6" y="483" font-size="13.7" text-anchor="start" fill="#0000ff" font-weight="bold" font-style="normal" >70</text><line x1="845.9" y1="453.4" x2="841.4" y2="453.4" stroke="#0000ff" stroke-width="1.5"/><text x="851.6" y="457.3" font-size="13.7" text-anchor="start" fill="#0000ff" font-weight="bold" font-style="normal" >80</text><line x1="845.9" y1="427.7" x2="841.4" y2="427.7" stroke="#0000ff" stroke-width="1.5"/><text x="851.6" y="431.6" font-size="13.7" text-anchor="start" fill="#0000ff" font-weight="bold" font-style="normal" >90</text><line x1="845.9" y1="402" x2="841.4" y2="402" stroke="#0000ff" stroke-width="1.5"/><text x="851.6" y="405.9" font-size="13.7" text-anchor="start" fill="#0000ff" font-weight="bold" font-style="normal" >100</text><path d="M499.2 659V402H845.9" fill="none" stroke="#000" stroke-width="1.5" stroke-linecap="square"/><path d="M499.2 659H845.9" fill="none" stroke="#000" stroke-width="1.5" stroke-linecap="square"/><path d="M845.9 402V659" fill="none" stroke="#0000ff" stroke-width="1.5" stroke-linecap="square"/><line x1="499.2" y1="566" x2="845.9" y2="566" stroke="#ff0000" stroke-width="1.5" stroke-dasharray="6 5.77" stroke-dashoffset="-1.65"/><line x1="821.6" y1="404.2" x2="821.6" y2="659" stroke="#ff0000" stroke-width="1.5" stroke-dasharray="6 5.84"/><circle cx="821.7" cy="535.4" r="2.7" fill="#5a8a3a" stroke="#3f6f25" stroke-width="0.6"/><text x="603.5" y="560" font-size="12" text-anchor="start" fill="#000" font-weight="bold" font-style="normal" >Prescribed stress level</text><text x="722.5" y="476.5" font-size="12.1" text-anchor="start" fill="#000" font-weight="bold" font-style="normal" >Stress level of</text><text x="722.5" y="491.5" font-size="12.1" text-anchor="start" fill="#000" font-weight="bold" font-style="normal" >reloading with AE</text><text x="772" y="540" font-size="12.2" text-anchor="start" fill="#1a801a" font-weight="bold" font-style="normal" ><tspan font-style="italic" letter-spacing="-0.6">FR</tspan>=1.29</text><text x="672.55" y="690" font-size="14.4" text-anchor="middle" fill="#000" font-weight="bold" font-style="normal" >Detection time (s)</text><text transform="translate(473 518.5) rotate(-90)" font-size="14.4" font-weight="bold" text-anchor="middle" fill="#000"><tspan font-style="italic" font-size="15.5">&#963;</tspan><tspan font-size="8" dy="2.6">I</tspan><tspan dy="-2.6"> (MPa)</tspan></text><text transform="translate(878.8 522) rotate(-90)" font-size="14.4" font-weight="bold" text-anchor="middle" fill="#0000ff">AE events</text><text x="668.4" y="741" font-size="21.5" text-anchor="middle" fill="#000">(<tspan font-weight="bold" font-size="19.5">d</tspan>)</text><line x1="506.7" y1="420" x2="536.7" y2="420" stroke="#000" stroke-width="2"/><text x="540.7" y="424.5" font-size="13.2" text-anchor="start" fill="#000" font-weight="bold" font-style="normal" >Stress - time curve, 13#</text><rect x="507.7" y="431.2" width="29" height="10.2" fill="#0000ff"/><text x="540.7" y="441" font-size="13.2" text-anchor="start" fill="#000" font-weight="bold" font-style="normal" >AE events</text></svg></body></html>
